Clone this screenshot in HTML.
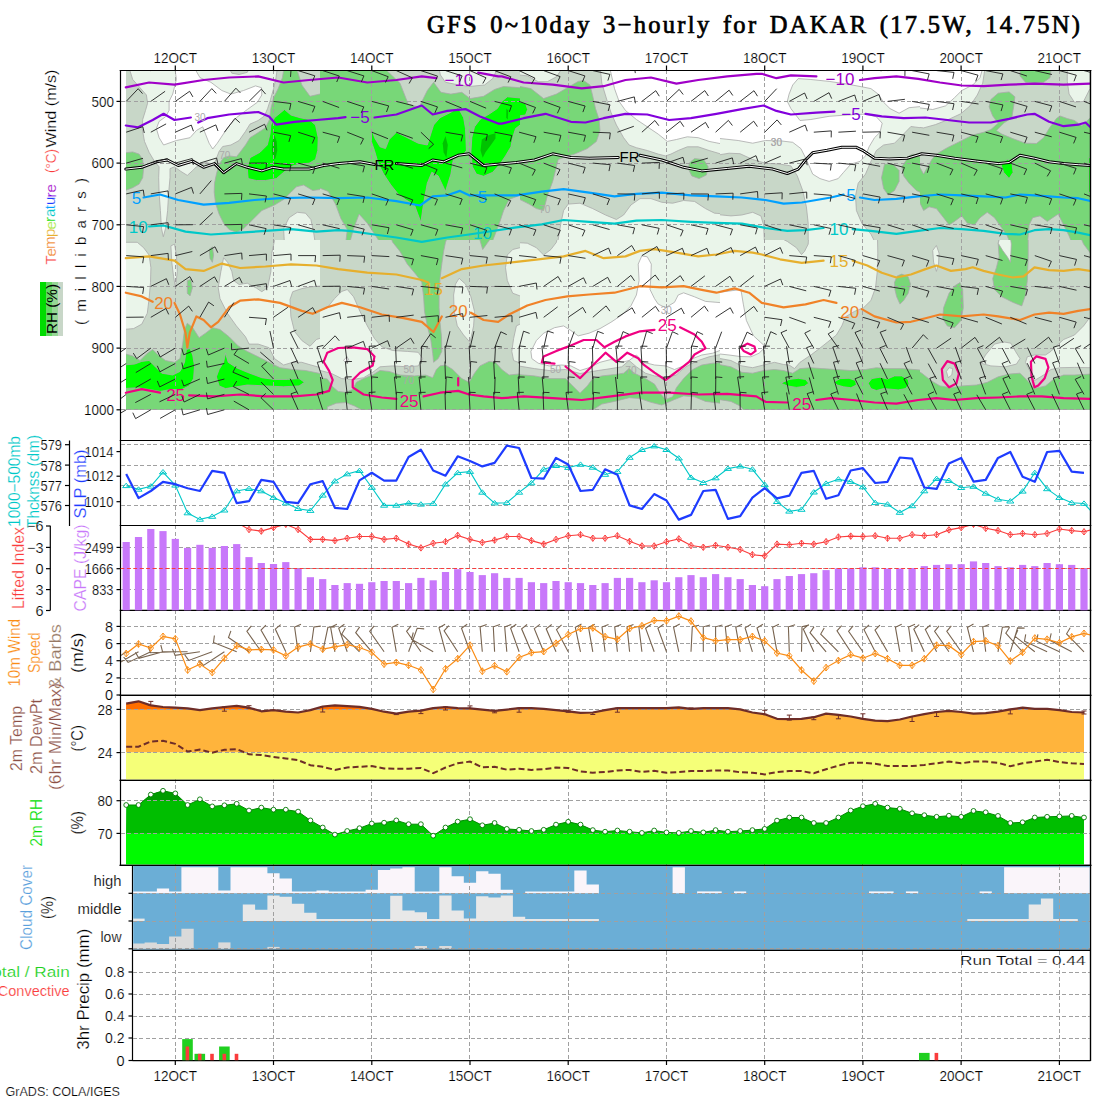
<!DOCTYPE html><html><head><meta charset="utf-8"><style>html,body{margin:0;padding:0;background:#fff}svg{display:block}</style></head><body><svg width="1100" height="1100" viewBox="0 0 1100 1100" font-family="Liberation Sans, sans-serif" shape-rendering="auto"><rect width="1100" height="1100" fill="#fff"/><text x="427" y="33.2" font-size="24.5" fill="#000" text-anchor="start" font-family="Liberation Serif, serif" textLength="653" lengthAdjust="spacing" stroke="#000" stroke-width="0.7" word-spacing="3">GFS 0~10day 3−hourly for DAKAR (17.5W, 14.75N)</text><g stroke="#aaaaaa" stroke-width="0.8" stroke-linejoin="round"><clipPath id="c0"><rect x="126" y="70" width="194" height="170"/></clipPath><g clip-path="url(#c0)"><rect x="125" y="69" width="196" height="172" fill="#c8d7c8" stroke="none"/><polygon points="128.2,65 277.8,65 276,77.7 273.6,88.6 270.5,99.5 267.6,108.6 264.5,115.9 258.2,120.5 250,124.1 245.5,131.4 239.1,140.5 230.9,145 222.7,146.5 219.1,151.4 216,159.5 213.6,164.1 205.5,162.3 196.4,166.8 192.7,170.5 187.3,175.4 180.9,171.4 174.5,166.8 170,168.6 170,177.7 168.7,192.3 167.6,210.5 165.5,228.6 163.3,236.8 161.5,228.6 160.4,210.5 159.1,192.3 158.7,177.7 159.1,166.8 154.5,161.4 149.1,152.3 144.5,141.4 142.2,128.6 142.7,119.5 145.5,110.5 147.6,103.2 146.4,95 140,87.7 132.7,79.5" fill="#eaf5ea"/><polygon points="227.3,65 231.8,73.2 239.1,74.5 247.3,72.3 250.9,65" fill="#c8d7c8"/><polygon points="174.5,65 192.7,65 200,77.7 210.9,82.3 221.8,90.5 230.9,94.1 243.6,90.5 255.5,85.9 261.5,87.7 261.8,95 257.3,102.3 247.3,109.5 236.4,117.7 229.1,125.9 222.7,135 217.3,143.2 212.7,149 209.1,143.2 205.5,134.1 202.7,126.8 196.4,130.5 190,137.7 176.4,140.5 163.6,145 159.1,137.7 156.4,128.6 159.1,121.4 165.5,116.8 169.1,110.5 169.1,101.4 172.7,94.1 174.5,86.8 176.4,79.5" fill="#ffffff"/><polygon points="284.5,245 283.6,228.6 289.1,217.7 297.3,212.3 305.5,213.2 310.9,219.5 313.6,232.3 315.5,245" fill="#eaf5ea"/><polygon points="122.7,153.2 132.7,151.9 139.1,154.1 142.7,159.5 143.6,168.6 142.7,177.7 139.1,184.1 132.7,187.7 122.7,191.4" fill="#78d778"/><polygon points="284.5,65 282.4,77.7 278.2,88.6 273.6,97.7 270.9,108.6 269.5,119.5 265.5,127.7 258.2,132.6 250,137.7 245.5,145 240,152.3 236.4,156.8 229.1,155.9 223.6,157.7 219.1,164.1 216.4,174.1 214.5,183.2 214.2,192.3 215.5,203.2 219.1,214.1 223.6,223.2 229.1,229.5 236.4,232.3 243.6,228.6 250.9,221.4 261.8,210.5 274.5,205 283.6,199.5 290.9,192.3 296.4,186.8 303.6,185 312.7,190.5 327.3,188.6 327.3,65" fill="#78d778"/><polygon points="295.5,65 327.3,65 327.3,92.3 310,96.3 301.8,85" fill="#c8d7c8"/><polygon points="248.2,178.6 247.3,168.6 250,157.7 260,152.3 267.3,145 270,134.1 270.9,125 274.5,117.7 284.5,109.5 290.9,115 300,117.7 309.1,119.5 315.5,125 318.2,137.7 317.8,150.5 315.5,159.5 309.1,163.2 300,164.1 292.7,165.9 283.6,172.3 276.4,178.6 265.5,180.5 256.4,180.5" fill="#00ff00"/><polygon points="274.5,135 276.7,141.4 277.3,150.5 275.5,158.6 273.3,159.5 271.8,150.5 272.4,141.4" fill="#00c300" stroke="none"/></g><clipPath id="c1"><rect x="320" y="70" width="200" height="170"/></clipPath><g clip-path="url(#c1)"><rect x="319" y="69" width="202" height="172" fill="#78d778" stroke="none"/><polygon points="380.9,65 400,83.2 408.2,104.1 419.1,107.2 427.3,90.5 433.6,82.3 440.9,92.3 450.9,94.1 461.8,92.3 470,98.6 483.6,96.3 494.5,89.5 503.6,86.5 527.3,88.3 527.3,65" fill="#c8d7c8"/><polygon points="438.2,65 499.1,65 492.7,78.6 484.5,85 469.1,86.5 454.5,84.1 445.5,82.3 440.4,75" fill="#eaf5ea"/><polygon points="312.7,185.4 328.2,191.4 335.5,204.1 340.9,218.6 347.3,229.5 345.5,245 312.7,245" fill="#c8d7c8"/><polygon points="359.1,214.1 367.3,223.2 374.5,234.1 381.8,245 349.1,245 353.6,228.6" fill="#c8d7c8"/><polygon points="527.3,192.3 509.1,199.5 503.6,210.5 500,221.4 494.5,235.9 490.9,245 527.3,245" fill="#c8d7c8"/><polygon points="447.3,245 454.5,239.9 463.6,245" fill="#c8d7c8"/><polygon points="371.8,128.6 374.5,137.7 380,146.8 385.5,148.6 389.1,139.5 396.4,132.3 405.5,136.8 418.2,143.2 427.3,145 433.6,125 440,117.7 450.9,112.3 458.2,107.7 463.6,117.7 465.5,128.6 466.4,150.5 463.6,154.1 453.6,157.7 450.9,174.1 445.5,191.4 438.2,175.9 431.8,172.3 427.3,183.2 423.6,203.2 420.9,222.3 414.5,205 405.5,199.5 398.2,194.1 390.9,185 383.6,174.1 378.2,163.2 374.5,150.5 371.3,141.4" fill="#00ff00"/><polygon points="471.8,137.7 474.5,126.8 480,119.5 489.1,114.1 497.3,108.6 501.8,101.4 507.3,96.8 527.3,98.6 527.3,119.5 515.5,128.6 512.7,137.7 510.9,146.8 505.5,155.9 500,164.1 492.7,172.3 483.6,176.3 476.4,174.1 472.4,166.8 470.9,152.3" fill="#00ff00"/><polygon points="445.5,135.9 447.8,145 446.4,157.7 443.6,152.3 442.7,143.2" fill="#00c300" stroke="none"/><polygon points="481.8,139.5 489.1,135 495.5,133.2 495.5,138.6 490.9,145 485.5,152.3 482.7,157.7 480.5,150.5" fill="#00c300" stroke="none"/><polygon points="506.4,108.6 508.2,110.5 507.8,119.5 506.2,117.7" fill="#00c300" stroke="none"/></g><clipPath id="c2"><rect x="520" y="70" width="200" height="170"/></clipPath><g clip-path="url(#c2)"><rect x="519" y="69" width="202" height="172" fill="#c8d7c8" stroke="none"/><polygon points="512.7,65 564.5,65 556.4,76.8 547.3,81.7 538.2,81.7 527.3,75.9 512.7,74.1" fill="#eaf5ea"/><polygon points="600,65 601.8,83.2 607.3,101.4 610.9,112.3 616.4,125 623.6,137.7 629.1,145 636.4,147.7 647.3,150.5 658.2,154.1 665.5,155.9 670.9,154.1 678.2,150.5 687.3,146.8 698.2,146.8 709.1,150.5 727.3,155.9 727.3,65" fill="#eaf5ea"/><polygon points="609.1,65 614.5,88.6 619.1,101.4 625.5,110.5 636.4,119.5 647.3,126.8 658.2,134.1 667.3,141.4 676.4,139.5 687.3,136.8 698.2,137.7 709.1,141.4 727.3,145 727.3,65" fill="#ffffff"/><polygon points="557.3,245 559.1,234.1 560.9,223.2 563.6,210.5 568.2,204.1 580,203.2 592.7,208.6 605.5,215 616.4,219.5 623.6,215 630.9,205 640,198.6 650.9,198.6 661.8,202.3 672.7,203.2 683.6,200.5 694.5,201.4 705.5,208.6 714.5,213.2 727.3,214.1 727.3,245" fill="#eaf5ea"/><polygon points="512.7,85 530.9,88.6 543.6,98.6 556.4,94.1 569.1,86.8 578.2,81.4 583.6,80.5 590,85 592.7,95.9 595.5,108.6 599.1,119.5 600,130.5 596.4,141.4 587.3,148.6 574.5,154.1 565.5,156.8 558.2,159.5 555.5,170.5 552.7,181.4 547.3,195.9 543.6,210.5 536.4,208.6 529.1,204.1 512.7,195.9" fill="#78d778"/><polygon points="689.1,163.2 694.5,158.6 703.6,159.5 708.2,166.8 706.4,175 699.1,178.6 691.8,175.9 688.7,169.5" fill="#78d778"/><polygon points="512.7,100.5 525.5,103.2 527.6,109.5 525.5,115 512.7,116.8" fill="#00ff00"/></g><clipPath id="c3"><rect x="720" y="70" width="200" height="170"/></clipPath><g clip-path="url(#c3)"><rect x="719" y="69" width="202" height="172" fill="#eaf5ea" stroke="none"/><polygon points="712.7,65 927.3,65 927.3,105.9 909.1,107.7 899.1,113.2 890,108.6 883.6,102.3 878.2,94.1 870.9,88.6 861.8,86.8 847.3,84.1 829.1,81.4 810.9,79.5 798.2,78.6 792.7,85 789.1,94.1 787.3,101.4 790.9,108.6 800,120.5 810.9,119.5 829.1,116.3 847.3,115 865.5,114.1 876.4,116.8 882.2,123.2 880,132.3 874.5,137.7 869.1,146.8 865.5,155.9 860,161.4 850.9,164.1 843.6,172.3 838.2,178.6 829.1,181.4 820,178.6 812.7,174.1 809.1,165.9 805.5,157.7 800.9,148.6 792.7,142.3 781.8,141 765.5,140.5 752.7,143.2 738.2,140.5 712.7,137.7" fill="#ffffff"/><polygon points="712.7,155.9 729.1,153.2 740,153.7 752.7,159.5 765.5,163.2 780,164.1 790.9,165.9 797.3,175.9 802.7,190.5 806.4,206.8 808.2,223.2 808.2,245 764.5,245 763.6,225 760.9,215.9 752.7,212.3 741.8,215 730.9,215.9 712.7,214.1" fill="#c8d7c8"/><polygon points="927.3,128.6 910.9,126.5 901.8,135.9 894.5,143.2 883.6,145 876.4,150.5 870.9,161.4 865.5,174.1 858.2,183.2 855.5,195.9 856.4,210.5 861.8,223.2 870.9,234.1 876.4,245 927.3,245" fill="#c8d7c8"/><polygon points="884.5,164.1 892.7,164.1 899.1,170.5 899.1,181.4 894.5,190.5 888.2,195 883.6,188.6 881.5,177.7" fill="#78d778"/><polygon points="901.8,166.8 909.1,155.9 912.7,154.1 927.3,159.5 927.3,195.9 916.4,190.5 909.1,183.2 903.6,175.9" fill="#78d778"/></g><clipPath id="c4"><rect x="920" y="70" width="170" height="170"/></clipPath><g clip-path="url(#c4)"><rect x="919" y="69" width="172" height="172" fill="#c8d7c8" stroke="none"/><polygon points="892.7,65 985.5,65 982.7,83.2 977.3,95 970,105.9 960.9,113.7 949.1,119.2 935.5,124.6 923.6,127.9 912.7,126.5 906.4,133.2 892.7,139.5" fill="#eaf5ea"/><polygon points="892.7,65 983.6,65 980,77.7 972.7,85 961.8,90.5 954.5,97.7 945.5,105.9 932.7,109.5 918.2,107.7 907.3,108.6 892.7,106.8" fill="#ffffff"/><polygon points="1067.3,65 1090,65 1090,88.6 1083.6,101.4 1074.5,102.3 1069.1,94.1 1067.3,81.4" fill="#eaf5ea"/><polygon points="1020,65 1051.8,65 1050,77.7 1043.6,82.3 1034.5,83.2 1025.5,82.3 1020,75.9" fill="#78d778"/><polygon points="892.7,166.8 905.5,163.2 910.9,155.9 913.6,154.1 914.5,157.7 923.6,174.1 931.8,159.5 936.4,154.1 947.3,147.7 960,141.4 972.7,135 983.6,132.3 990.9,129.5 998.2,123.2 992.7,115.9 989.1,106.8 990.9,99.5 998.2,93.2 1009.1,91.9 1014.9,96.8 1013.6,106.8 1011.8,117.7 1003.6,123.2 996.4,130.5 1001.8,134.1 1012.7,138.6 1025.5,143.2 1036.4,143.5 1043.6,137.7 1049.1,128.6 1056.4,118.6 1060,115.9 1067.3,118.6 1074.5,120.5 1081.8,125.9 1090.4,117.7 1090.4,245 1072.7,245 1069.1,235.9 1063.6,225 1058.2,214.1 1052.7,217.7 1047.3,221.4 1040,215.9 1032.7,217.7 1029.1,225 1028.2,235.9 1027.3,245 1010.9,245 1007.3,235.9 1000.9,226.8 994.5,217.7 987.3,212.3 980,217.7 974.5,225 967.3,223.2 961.8,215.9 954.5,221.4 949.1,225 943.6,217.7 936.4,208.6 929.1,206.8 923.6,210.5 920,203.2 917.3,192.3 912.7,183.2 905.5,175.9 892.7,172.3" fill="#78d778"/><polygon points="1000.9,164.1 1007.3,159.5 1011.8,161.4 1013.1,172.3 1009.1,178.6 1003.6,172.3" fill="#00ff00"/><polygon points="1088.7,157.7 1090.4,157.7 1090.4,192.3 1088.7,192.3" fill="#00ff00"/></g><clipPath id="c5"><rect x="126" y="240" width="194" height="170"/></clipPath><g clip-path="url(#c5)"><rect x="125" y="239" width="196" height="172" fill="#c8d7c8" stroke="none"/><polygon points="122.7,242.3 137.3,242.3 143.6,247.7 149.1,255 150.9,267.7 150.5,282.3 149.1,298.6 147.3,313.2 141.8,324.1 133.6,328.6 122.7,329.5" fill="#eaf5ea"/><polygon points="170.9,245.9 174.5,244.1 176.4,255 177.3,271.4 175.5,287.7 173.6,276.8 171.8,262.3" fill="#eaf5ea"/><polygon points="223.6,257.7 227.6,262.3 231.8,271.4 233.6,280.5 239.1,284.5 247.3,283.2 256.4,288.1 261.8,291.7 267.6,287.7 270.9,271.4 271.8,253.2 274.5,240.5 278.2,227.7 327.3,227.7 327.3,369.5 310.9,365 301.8,362.3 292.7,362.3 283.6,365 274.5,358.6 269.1,347.7 258.2,344.1 249.1,344.1 245.5,336.8 236.4,325.9 227.3,313.2 220,298.6 218.2,287.7 220.9,271.4" fill="#eaf5ea"/><polygon points="327.3,285.5 310.9,286.8 301.8,288.6 292.7,291.7 290,299.5 290.9,316.8 294.5,331.4 301.8,340.5 310,346.3 316.4,339.5 327.3,335.9" fill="#c8d7c8"/><polygon points="209.1,249.5 212.4,246.8 213.6,255 212.4,262.3 210,258.6" fill="#78d778"/><polygon points="187.3,280.5 190.9,279.5 192.4,287.7 190,295.9 187.3,293.2" fill="#78d778"/><polygon points="122.7,353.2 132.7,355.9 140,360.5 147.3,353.2 152.7,349.5 158.2,355 165.5,360.5 174.5,362.3 180,358.6 182.7,344.1 184.5,329.5 187.3,323.2 192.7,327.7 199.1,337.7 205.5,333.2 212.7,327.7 220,329.5 229.1,336.8 238.2,345.9 247.3,351.4 258.2,356.8 269.1,362.3 280,367.7 292.7,369.5 305.5,370.5 327.3,375 327.3,409.9 122.7,409.9" fill="#78d778"/><polygon points="122.7,365 134.5,364.1 141.8,361.4 149.1,360.5 154.5,365.9 161.8,373.2 172.7,375 180,371.4 184.5,362.3 186.4,349.5 190,348.6 192.7,355 194.5,365.9 193.6,378.6 189.1,385.9 181.8,389.5 170.9,389.5 160,391.4 149.1,389.5 138.2,387.7 122.7,388.6" fill="#00ff00"/><polygon points="216.4,376.8 219.1,369.5 223.6,362.3 225.5,353.2 228.2,362.3 236.4,367.7 247.3,372.3 261.8,377.7 274.5,379.5 287.3,379.5 299.1,378.6 304.5,382.3 299.1,385.9 283.6,386.8 265.5,385.9 247.3,385 236.4,386.8 225.5,388.6 219.1,385.9" fill="#00ff00"/></g><clipPath id="c6"><rect x="320" y="240" width="200" height="170"/></clipPath><g clip-path="url(#c6)"><rect x="319" y="239" width="202" height="172" fill="#c8d7c8" stroke="none"/><polygon points="312.7,313.2 327.3,307.7 334.5,298.6 341.8,291.4 347.3,289.5 353.6,296.8 360,311.4 367.3,325.9 374.5,338.6 381.8,346.8 392.7,350.5 407.3,351.4 418.2,352.3 422.7,358.6 418.2,365.9 407.3,366.8 392.7,365.9 380,366.8 372.7,372.3 363.6,377.7 352.7,379.5 341.8,378.6 330.9,373.2 312.7,368.6" fill="#eaf5ea"/><polygon points="343.6,360.5 346.9,356.5 349.1,360.5 346.4,363.2" fill="#ffffff"/><polygon points="453.6,295 455.5,284.1 459.1,278.3 465.5,284.1 470.9,296.8 474.5,311.4 473.6,325.9 470,342.3 463.6,335 457.3,325.9 454.2,311.4" fill="#eaf5ea"/><polygon points="527.3,245.9 512.7,249.5 507.3,255 505.5,267.7 507.3,280.5 512.7,293.2 527.3,298.6" fill="#eaf5ea"/><polygon points="527.3,320.5 516.4,325.9 513.6,338.6 511.8,351.4 513.6,360.5 527.3,365.9" fill="#eaf5ea"/><polygon points="387.3,227.7 392.7,242.3 400,251.4 407.3,264.1 416.4,275 421.8,282.3 423.6,296.8 424.5,311.4 427.3,325.9 430.9,340.5 432.7,353.2 433.6,362.3 438.2,358.6 441.8,351.4 441.5,336.8 440,322.3 439.1,307.7 439.1,293.2 440,278.6 441.8,264.1 443.6,251.4 445.5,242.3 450.9,227.7" fill="#78d778"/><polygon points="476.4,227.7 482.7,249.5 489.1,240.5 492.7,227.7" fill="#78d778"/><polygon points="312.7,376.5 327.3,379 332.7,386.8 338.2,391.4 345.5,392.3 352.7,389.5 356.4,382.3 363.6,378.6 372.7,375 380,370.5 389.1,371.4 400,375 414.5,375.9 425.5,375 432.7,377.7 436.4,369.5 440,365.9 445.5,365 452.7,369.5 461.8,378.6 469.1,382.3 474.5,373.2 480,365.9 489.1,361.4 495.5,362.3 501.8,369.5 509.1,375 527.3,373.2 527.3,409.9 312.7,409.9" fill="#78d778"/><polygon points="327.3,406.8 336.4,403.2 345.5,402.6 354.5,405.9 361.8,409.9 327.3,409.9" fill="#c8d7c8"/></g><clipPath id="c7"><rect x="520" y="240" width="200" height="170"/></clipPath><g clip-path="url(#c7)"><rect x="519" y="239" width="202" height="172" fill="#eaf5ea" stroke="none"/><polygon points="512.7,227.7 559.1,227.7 556.4,242.3 550.9,249.5 543.6,255 536.4,247.7 527.3,243.2 512.7,242.3" fill="#c8d7c8"/><polygon points="512.7,365 534.5,368.6 549.1,370.5 565.5,369.5 580,373.5 598.2,370.5 610.9,368.6 621.8,366.8 629.1,360.5 636.4,366.8 645.5,373.2 654.5,375.9 665.5,377.2 676.4,375 680,371.4 687.3,365.9 698.2,360.5 709.1,356.8 727.3,353.2 727.3,415 512.7,415" fill="#c8d7c8"/><polygon points="512.7,374.1 534.5,375.9 549.1,378.6 565.5,378.6 572.7,385.9 580,393.2 587.3,385.9 592.7,378.6 601.8,375.9 614.5,374.6 623.6,373.2 629.1,368.6 634.5,373.2 645.5,378.6 654.5,384.1 660,393.2 665.5,399.5 672.7,396.8 676.4,387.7 683.6,378.6 692.7,369.5 701.8,365 712.7,363.2 727.3,362.3 727.3,409.9 512.7,409.9" fill="#78d778"/><polygon points="592.7,409.9 601.8,404.1 614.5,401.4 629.1,397.7 640,398.6 650.9,402.3 661.8,405 674.5,399.5 683.6,395.9 694.5,396.8 705.5,401.4 727.3,404.1 727.3,409.9" fill="#c8d7c8"/><polygon points="530.9,351.4 536.4,340.5 543.6,333.2 554.5,327.7 563.6,325.9 570.9,330.5 578.2,335.9 589.1,333.2 600,328.6 610.9,322.3 621.8,315 630.9,305.9 636.4,295 639.1,280.5 638.2,264.1 641.8,255.9 647.3,256.8 651.3,264.1 650.9,276.8 650,289.5 654.5,298.6 658.2,304.1 665.5,307.7 674.5,302.3 678.2,295 683.6,292.8 694.5,296.8 705.5,301.4 727.3,303.2 727.3,347.7 712.7,353.2 701.8,355 692.7,358.6 683.6,365.9 674.5,369.5 665.5,365.9 654.5,365 643.6,362.3 636.4,355 629.1,360.5 621.8,362.3 610.9,359.5 600,362.3 589.1,367.7 580,370.5 570.9,365.9 561.8,365 549.1,365.9 538.2,363.2 531.8,358.6" fill="#ffffff"/></g><clipPath id="c8"><rect x="720" y="240" width="200" height="170"/></clipPath><g clip-path="url(#c8)"><rect x="719" y="239" width="202" height="172" fill="#eaf5ea" stroke="none"/><polygon points="712.7,293.2 740.9,289.5 743.3,304.1 746.4,320.5 753.6,335.9 765.5,346.8 759.1,353.2 750.9,356.8 740,356.5 729.1,355 712.7,353.2" fill="#ffffff"/><polygon points="776.4,227.7 809.1,227.7 808.2,244.1 804.5,251.4 801.5,254.6 796.4,247.7 787.3,241.4 780,237.7" fill="#c8d7c8"/><polygon points="877.3,227.7 877.8,253.2 877.3,271.4 875.5,287.7 870.9,300.5 863.6,307.7 854.5,311.4 845.5,316.8 841.8,325.9 836.4,335 827.3,342.3 818.2,349.5 810.9,355 800,362.3 794.5,368.6 789.1,365 783.6,364.5 774.5,362.3 763.6,365 752.7,367.7 741.8,365.9 730.9,360.5 712.7,357.2 712.7,415 927.3,415 927.3,227.7" fill="#c8d7c8"/><polygon points="712.7,363.2 730.9,366.8 741.8,372.3 752.7,373.2 763.6,370.5 774.5,369.5 783.6,370.5 792.7,373.2 800,368.6 810.9,367.7 821.8,368.6 836.4,369.5 850.9,370.5 865.5,369.5 876.4,367.7 887.3,368.6 901.8,368.6 927.3,370.5 927.3,409.9 743.6,409.9 740,405.9 730.9,401.4 712.7,398.6" fill="#78d778"/><polygon points="894.5,282.3 897.3,275.9 901.8,274.1 908.2,276.8 910.5,284.1 908.2,293.2 903.6,300.5 900,304.1 896.7,296.8 894.9,289.5" fill="#78d778"/><polygon points="780.9,383.2 789.1,379.5 798.2,378.3 805.5,379.5 808.7,383.2 804.5,386.3 796.4,387.4 787.3,385.9" fill="#00ff00"/><polygon points="833.6,382.3 840,378.6 849.1,378.3 855.5,380.5 856.4,385 850.9,387.7 843.6,386.8 837.3,385" fill="#00ff00"/><polygon points="868.2,383.2 871.8,378.6 880,377.2 887.3,379 894.5,375.9 901.8,375.9 908.2,379.5 909.1,384.1 905.5,388.6 898.2,389.9 890.9,389.2 883.6,388.6 876.4,390.5 870.9,388.6" fill="#00ff00"/></g><clipPath id="c9"><rect x="920" y="240" width="170" height="170"/></clipPath><g clip-path="url(#c9)"><rect x="919" y="239" width="172" height="172" fill="#c8d7c8" stroke="none"/><polygon points="932.7,250.5 936.4,245.5 939.1,253.2 938.5,264.1 936.4,271.4 933.6,262.3" fill="#eaf5ea"/><polygon points="980.9,363.2 985.5,355 994.5,344.1 1003.6,341.9 1010.9,343.2 1015.5,351.4 1020,358.6 1016.4,364.1 1005.5,366.8 990.9,365.9" fill="#eaf5ea"/><polygon points="1090.4,316.8 1083.6,325.9 1074.5,335 1063.6,339.5 1056.4,345.9 1050.9,351.4 1045.5,355 1034.5,355 1027.3,356.8 1025.5,362.3 1030.9,373.2 1034.5,380.5 1043.6,375 1050.9,369.5 1060,367.7 1074.5,367.4 1090.4,367.7" fill="#eaf5ea"/><polygon points="946.4,371.4 949.1,367.7 952.7,368.6 951.8,375 948.2,377.7" fill="#eaf5ea"/><polygon points="892.7,278.6 906.4,279.5 910,285 908.2,295 903.6,301.4 892.7,303.2" fill="#78d778"/><polygon points="960,282.6 962.7,289.5 963.3,307.7 960.9,320.5 954.5,327.7 947.3,325.9 942.7,318.6 943.6,307.7 949.1,293.2 954.5,285.9" fill="#78d778"/><polygon points="998.2,243.2 1002.7,227.7 1028.2,227.7 1028.2,256.8 1027.3,280.5 1025.5,295 1021.8,305.9 1012.7,302.3 1001.8,296.8 994.5,289.5 992.7,278.6 996.4,267.7 999.1,256.8" fill="#78d778"/><polygon points="998.2,243.2 1002.7,227.7 1009.1,227.7 1011.3,244.1 1010.5,262.3 1007.3,256.8 1002.7,250.5" fill="#eaf5ea"/><polygon points="1076.4,227.7 1090.4,227.7 1090.4,253.2 1083.6,244.1" fill="#78d778"/><polygon points="892.7,365 910.9,367.7 921.8,373.2 930.9,380.5 940,385.9 950.9,387.7 961.8,385.9 976.4,385 987.3,382.3 998.2,376.8 1009.1,374.1 1020,373.2 1027.3,380.5 1034.5,388.6 1045.5,385.9 1054.5,378.6 1063.6,375 1074.5,375 1090.4,374.1 1090.4,409.9 892.7,409.9" fill="#78d778"/><polygon points="892.7,375.9 905.5,377.7 909.1,382.3 905.5,387.7 892.7,389.5" fill="#00ff00"/></g></g><line x1="120.5" y1="101.5" x2="1090.5" y2="101.5" stroke="#a0a0a0" stroke-width="1" stroke-dasharray="4 2.5" shape-rendering="crispEdges"/><line x1="120.5" y1="163.5" x2="1090.5" y2="163.5" stroke="#a0a0a0" stroke-width="1" stroke-dasharray="4 2.5" shape-rendering="crispEdges"/><line x1="120.5" y1="224.5" x2="1090.5" y2="224.5" stroke="#a0a0a0" stroke-width="1" stroke-dasharray="4 2.5" shape-rendering="crispEdges"/><line x1="120.5" y1="286.5" x2="1090.5" y2="286.5" stroke="#a0a0a0" stroke-width="1" stroke-dasharray="4 2.5" shape-rendering="crispEdges"/><line x1="120.5" y1="348.5" x2="1090.5" y2="348.5" stroke="#a0a0a0" stroke-width="1" stroke-dasharray="4 2.5" shape-rendering="crispEdges"/><line x1="120.5" y1="409.5" x2="1090.5" y2="409.5" stroke="#a0a0a0" stroke-width="1" stroke-dasharray="4 2.5" shape-rendering="crispEdges"/><line x1="175.5" y1="70" x2="175.5" y2="866" stroke="#a0a0a0" stroke-width="1" stroke-dasharray="4 2.5" shape-rendering="crispEdges"/><line x1="273.5" y1="70" x2="273.5" y2="866" stroke="#a0a0a0" stroke-width="1" stroke-dasharray="4 2.5" shape-rendering="crispEdges"/><line x1="371.5" y1="70" x2="371.5" y2="866" stroke="#a0a0a0" stroke-width="1" stroke-dasharray="4 2.5" shape-rendering="crispEdges"/><line x1="469.5" y1="70" x2="469.5" y2="866" stroke="#a0a0a0" stroke-width="1" stroke-dasharray="4 2.5" shape-rendering="crispEdges"/><line x1="568.5" y1="70" x2="568.5" y2="866" stroke="#a0a0a0" stroke-width="1" stroke-dasharray="4 2.5" shape-rendering="crispEdges"/><line x1="666.5" y1="70" x2="666.5" y2="866" stroke="#a0a0a0" stroke-width="1" stroke-dasharray="4 2.5" shape-rendering="crispEdges"/><line x1="764.5" y1="70" x2="764.5" y2="866" stroke="#a0a0a0" stroke-width="1" stroke-dasharray="4 2.5" shape-rendering="crispEdges"/><line x1="862.5" y1="70" x2="862.5" y2="866" stroke="#a0a0a0" stroke-width="1" stroke-dasharray="4 2.5" shape-rendering="crispEdges"/><line x1="961.5" y1="70" x2="961.5" y2="866" stroke="#a0a0a0" stroke-width="1" stroke-dasharray="4 2.5" shape-rendering="crispEdges"/><line x1="1059.5" y1="70" x2="1059.5" y2="866" stroke="#a0a0a0" stroke-width="1" stroke-dasharray="4 2.5" shape-rendering="crispEdges"/><clipPath id="ctop"><rect x="121" y="71" width="969" height="340"/></clipPath><g clip-path="url(#ctop)" stroke-linejoin="round" stroke-linecap="round"><polyline points="125.8,87.3 149.1,82.5 174.5,84.7 203.6,80 229.1,77.5 258.2,76.4 283.6,82.5 309.1,80 338.2,77.5 367.3,82.5 396.4,80 421.8,76.4 436.4,78.2" fill="none" stroke="#a000c8" stroke-width="2.2"/><polyline points="478.2,72.7 498.2,76.4 501.8,76.4 523.6,82.5 552.7,84.7 581.8,88.4 603.6,86.2 625.5,80 650.9,77.5 676.4,83.6 698.2,80 727.3,76.4 756.4,73.8 761.8,73.8 776.4,78.2 790.9,75.3 816.4,76.4" fill="none" stroke="#a000c8" stroke-width="2.2"/><polyline points="860,80 874.5,78.2 896.4,76.4 918.2,78.9 940,82.5 961.8,85.5 983.6,86.2 1009.1,84.7 1034.5,83.6 1063.6,84.7 1090.5,83.6" fill="none" stroke="#a000c8" stroke-width="2.2"/><polyline points="125.8,125.5 138.2,127.3 152.7,120 163.6,113.8 174.5,120 190.9,117.5" fill="none" stroke="#8200dc" stroke-width="2.2"/><polyline points="198.2,122.5 207.3,118.2 229.1,114.5 258.2,112 269.1,116.4 276.4,124.7 294.5,121.8 316.4,120 338.2,118.2 345.5,117.1" fill="none" stroke="#8200dc" stroke-width="2.2"/><polyline points="374.5,117.5 396.4,114.5 421.8,105.5 432.7,114.5 447.3,110.9 465.5,109.1 480,116.4 498.2,123.6 501.8,123.6 523.6,118.2 545.5,113.8 570.9,121.8 585.5,122.5 603.6,118.2 625.5,113.8 647.3,114.5 669.1,120 690.9,118.2 716.4,113.8 741.8,109.1 763.6,105.5 776.4,110.9 790.9,114.5 816.4,112.7 834.5,111.6" fill="none" stroke="#8200dc" stroke-width="2.2"/><polyline points="865.5,113.8 881.8,116.4 903.6,118.2 925.5,117.5 947.3,120 969.1,122.5 990.9,122.5 1009.1,118.9 1027.3,114.5 1034.5,113.8 1049.1,121.8 1063.6,126.2 1078.2,124.7 1085.5,122.5 1090.5,127.3" fill="none" stroke="#8200dc" stroke-width="2.2"/><polyline points="125.8,169.1 141.8,167.3 156.4,161.8 167.3,160 178.2,165.5 192.7,161.1 203.6,167.3 214.5,163.6 223.6,172.7 236.4,163.6 247.3,167.3 261.8,170.9 272.7,167.3 283.6,169.1 309.1,169.1 323.6,165.5 338.2,163.6 360,161.8 374.5,164.4" fill="none" stroke="#000" stroke-width="3"/><polyline points="125.8,169.1 141.8,167.3 156.4,161.8 167.3,160 178.2,165.5 192.7,161.1 203.6,167.3 214.5,163.6 223.6,172.7 236.4,163.6 247.3,167.3 261.8,170.9 272.7,167.3 283.6,169.1 309.1,169.1 323.6,165.5 338.2,163.6 360,161.8 374.5,164.4" fill="none" stroke="#fff" stroke-width="1"/><polyline points="396.4,163.6 421.8,165.5 432.7,160 443.6,161.8 458.2,155.3 469.1,153.8 483.6,165.5 516.4,162.5 534.5,160 552.7,153.8 570.9,157.5 589.1,158.2 618.2,157.5" fill="none" stroke="#000" stroke-width="3"/><polyline points="396.4,163.6 421.8,165.5 432.7,160 443.6,161.8 458.2,155.3 469.1,153.8 483.6,165.5 516.4,162.5 534.5,160 552.7,153.8 570.9,157.5 589.1,158.2 618.2,157.5" fill="none" stroke="#fff" stroke-width="1"/><polyline points="640,155.3 661.8,160 683.6,167.3 701.8,170.9 727.3,168.4 749.1,166.2 772.7,169.1 787.3,173.5 798.2,169.1 805.5,160 812.7,152.7 827.3,150.2 841.8,147.3 856.4,147.3 863.6,150.9 874.5,158.2 889.1,158.9 907.3,158.2 921.8,153.8 936.4,155.3 954.5,158.2 976.4,161.1 998.2,163.6 1009.1,162.5 1020,155.3 1034.5,158.2 1049.1,161.8 1063.6,163.6 1078.2,164.7 1090.5,165.5" fill="none" stroke="#000" stroke-width="3"/><polyline points="640,155.3 661.8,160 683.6,167.3 701.8,170.9 727.3,168.4 749.1,166.2 772.7,169.1 787.3,173.5 798.2,169.1 805.5,160 812.7,152.7 827.3,150.2 841.8,147.3 856.4,147.3 863.6,150.9 874.5,158.2 889.1,158.9 907.3,158.2 921.8,153.8 936.4,155.3 954.5,158.2 976.4,161.1 998.2,163.6 1009.1,162.5 1020,155.3 1034.5,158.2 1049.1,161.8 1063.6,163.6 1078.2,164.7 1090.5,165.5" fill="none" stroke="#fff" stroke-width="1"/><polyline points="143.6,197.5 160,194.5 178.2,200 203.6,204.7 229.1,202.9 254.5,200 280,198.2 309.1,197.5 338.2,198.2 367.3,197.5 396.4,201.1 420,205.5 432.7,196.4 447.3,195.3 460,190.9 469.1,195.3 516.4,195.3 541.8,191.6 563.6,189.1 589.1,192.7 614.5,196.4 636.4,193.8 661.8,192.7 690.9,195.3 716.4,196.4 741.8,197.5 765.5,200 783.6,203.6 801.8,202.5 816.4,200 830.9,197.5 843.6,194.5" fill="none" stroke="#00a0ff" stroke-width="2.2"/><polyline points="860,197.5 874.5,200 896.4,198.9 918.2,196.4 940,194.5 961.8,195.3 983.6,196.4 1005.5,197.5 1020,194.5 1034.5,195.3 1049.1,196.4 1063.6,197.5 1078.2,198.2 1090.5,201.1" fill="none" stroke="#00a0ff" stroke-width="2.2"/><polyline points="149.1,226.5 163.6,225.5 185.5,231.6 210.9,234.5 240,232.7 265.5,230.9 290.9,229.1 316.4,231.6 338.2,230.2 349.1,230.9 374.5,234.5 396.4,237.5 421.8,241.8 447.3,237.5 469.1,234.5 516.4,227.3 541.8,224.4 563.6,220 589.1,221.8 614.5,223.6 636.4,220.7 661.8,220 690.9,221.8 716.4,222.9 741.8,223.6 765.5,228 787.3,230.9 805.5,230.2 823.6,228" fill="none" stroke="#00c8c8" stroke-width="2.2"/><polyline points="852.7,229.1 870.9,230.9 896.4,233.8 918.2,230.9 940,228 961.8,229.1 983.6,230.9 1005.5,233.8 1020,234.5 1034.5,230.2 1049.1,229.1 1063.6,230.2 1078.2,232.7 1090.5,235.3" fill="none" stroke="#00c8c8" stroke-width="2.2"/><polyline points="125.8,258.2 149.1,256.4 174.5,260.7 185.5,269.1 203.6,270.9 221.8,263.6 240,268 265.5,266.5 290.9,264.4 316.4,265.5 338.2,269.1 367.3,272.7 396.4,274.5 421.8,280 428.4,282.5" fill="none" stroke="#e6af2d" stroke-width="2.2"/><polyline points="441.8,278.2 461.8,269.1 483.6,265.5 516.4,261.8 538.2,259.3 563.6,256.4 585.5,250.9 603.6,258.2 625.5,256.4 640,250.9 654.5,249.1 676.4,252.7 698.2,256.4 716.4,254.5 734.5,250.9 752.7,252.7 761.8,254.5 780,259.3 801.8,262.9 823.6,260.7" fill="none" stroke="#e6af2d" stroke-width="2.2"/><polyline points="852.7,260.7 867.3,265.5 881.8,272.7 896.4,277.5 910.9,274.5 925.5,269.1 936.4,265.5 950.9,270.9 965.5,269.1 972.7,267.3 983.6,270.9 998.2,274.5 1012.7,277.5 1023.6,276.4 1034.5,267.3 1049.1,270.2 1063.6,270.9 1078.2,269.1 1090.5,270.9" fill="none" stroke="#e6af2d" stroke-width="2.2"/><polyline points="125.8,292.7 141.8,296.4 152.7,301.8" fill="none" stroke="#f08228" stroke-width="2.2"/><polyline points="174.5,302.9 180,314.5 185.5,332.7 187.3,347.3 189.8,332.7 196.4,316.4 203.6,320 210.9,327.3 218.2,321.8 229.1,307.3 240,300.7 258.2,299.3 280,302.9 301.8,310.9 312.7,313.8 327.3,307.3 341.8,302.9 360,307.3 381.8,314.5 403.6,318.2 421.8,321.8 433.5,332 441.8,316.4" fill="none" stroke="#f08228" stroke-width="2.2"/><polyline points="470.9,312.7 483.6,320 498.2,321.8 509.1,314.5 527.3,305.5 545.5,300 567.3,296.4 589.1,294.5 614.5,292.7 640,286.2 661.8,287.3 683.6,286.2 701.8,289.8 716.4,292.7 734.5,288.4 749.1,292.7 761.8,302.9 783.6,307.3 805.5,304.4 823.6,300 836.4,302.9" fill="none" stroke="#f08228" stroke-width="2.2"/><polyline points="861.8,309.1 874.5,316.4 896.4,322.5 910.9,321.8 925.5,318.2 940,314.5 961.8,316.4 983.6,314.5 998.2,316.4 1020,320 1034.5,314.5 1049.1,312.7 1063.6,313.8 1078.2,310.9 1090.5,309.1" fill="none" stroke="#f08228" stroke-width="2.2"/><polyline points="125.8,392.7 141.8,389.1 160,392.7" fill="none" stroke="#f00082" stroke-width="2.2"/><polyline points="189.1,395.3 214.5,396.4 240,394.5 265.5,396.4 294.5,396.4 316.4,394.5 329.1,390.9 332.7,380 329.1,370.9 323.6,361.8 327.3,352.7 338.2,348 352.7,347.3 367.3,349.1 374.5,356.4 372.7,365.5 360,372.7 352.7,380 352.7,387.3 363.6,394.5 381.8,397.5 396.4,398.9" fill="none" stroke="#f00082" stroke-width="2.2"/><polyline points="423.6,396.4 440,392.7 458.2,390.9 469.1,394.5 483.6,396.4 501.8,398.2 523.6,396.4 552.7,398.2 581.8,400 610.9,396.4 640,392.7 669.1,392.7 698.2,394.5 727.3,393.8 756.4,396.4 765.5,401.8 787.3,402.5" fill="none" stroke="#f00082" stroke-width="2.2"/><polyline points="816.4,400 830.9,398.2 852.7,400 874.5,402.5 896.4,403.6 918.2,400 936.4,398.2 954.5,400 976.4,398.2 998.2,397.5 1020,396.4 1041.8,396.4 1063.6,398.2 1090.5,398.9" fill="none" stroke="#f00082" stroke-width="2.2"/><polyline points="458.2,378.2 458.2,385.5" fill="none" stroke="#f00082" stroke-width="2.2"/><polyline points="654.5,329.8 640,331.3 625.5,336.4 614.5,341.8 604.4,347.3 596.4,340 583.6,340 570.9,345.5 556.4,350.9 543.6,356.4 541.8,362.5 554.5,363.6" fill="none" stroke="#f00082" stroke-width="2.2"/><polyline points="565.5,366.5 580,378.2 596.4,361.8 605.5,352.7 616.4,361.8 627.3,352.7 638.2,358.2 643.6,364.7 654.5,372.7 665.5,380 680,369.1 689.1,361.8 694.5,354.5 705.5,348.4 701.8,341.8 694.5,334.5 680,327.3" fill="none" stroke="#f00082" stroke-width="2.2"/><polyline points="741.1,347.3 747.3,343.6 754.5,346.5 755.6,350.9 750.9,354.5 743.6,350.9 741.1,347.3" fill="none" stroke="#f00082" stroke-width="2.2"/><polyline points="941.8,369.1 947.3,361.1 954.5,363.6 958.9,373.5 956.4,383.6 949.1,387.3 942.9,380 941.8,369.1" fill="none" stroke="#f00082" stroke-width="2.2"/><polyline points="1030.9,361.8 1036.4,356.4 1045.5,358.9 1048.4,367.3 1044.7,378.2 1038.2,385.5 1034.5,387.3 1031.6,376.4 1030.9,361.8" fill="none" stroke="#f00082" stroke-width="2.2"/></g><text x="458.9" y="86.1" font-size="17" fill="#a000c8" text-anchor="middle">−10</text><text x="840" y="85" font-size="17" fill="#a000c8" text-anchor="middle">−10</text><text x="360" y="123.2" font-size="17" fill="#8200dc" text-anchor="middle">−5</text><text x="850.9" y="119.9" font-size="17" fill="#8200dc" text-anchor="middle">−5</text><text x="384.4" y="169.8" font-size="15" fill="#000" text-anchor="middle">FR</text><text x="629.5" y="161.8" font-size="15" fill="#000" text-anchor="middle">FR</text><text x="136.4" y="204.3" font-size="17" fill="#00a0ff" text-anchor="middle">5</text><text x="482.5" y="202.5" font-size="17" fill="#00a0ff" text-anchor="middle">5</text><text x="850.9" y="201.4" font-size="17" fill="#00a0ff" text-anchor="middle">5</text><text x="138.2" y="233.4" font-size="17" fill="#00c8c8" text-anchor="middle">10</text><text x="482.5" y="238.8" font-size="17" fill="#00c8c8" text-anchor="middle">10</text><text x="838.9" y="235.2" font-size="17" fill="#00c8c8" text-anchor="middle">10</text><text x="433.5" y="294.5" font-size="17" fill="#e6af2d" text-anchor="middle">15</text><text x="838.9" y="266.8" font-size="17" fill="#e6af2d" text-anchor="middle">15</text><text x="163.6" y="309" font-size="17" fill="#f08228" text-anchor="middle">20</text><text x="458.2" y="317" font-size="17" fill="#f08228" text-anchor="middle">20</text><text x="849.8" y="317.8" font-size="17" fill="#f08228" text-anchor="middle">20</text><text x="175.6" y="400.7" font-size="17" fill="#f00082" text-anchor="middle">25</text><text x="409.1" y="407.2" font-size="17" fill="#f00082" text-anchor="middle">25</text><text x="667.3" y="330.8" font-size="17" fill="#f00082" text-anchor="middle">25</text><text x="801.8" y="409.8" font-size="17" fill="#f00082" text-anchor="middle">25</text><text x="200" y="120.6" font-size="10" fill="#aaaaaa" text-anchor="middle">30</text><text x="224.7" y="158.8" font-size="10" fill="#aaaaaa" text-anchor="middle">70</text><text x="409.1" y="372.6" font-size="10" fill="#aaaaaa" text-anchor="middle">50</text><text x="408.4" y="383.5" font-size="10" fill="#aaaaaa" text-anchor="middle">70</text><text x="776.4" y="146.4" font-size="10" fill="#aaaaaa" text-anchor="middle">30</text><text x="666.2" y="313.7" font-size="10" fill="#aaaaaa" text-anchor="middle">30</text><text x="555.6" y="373.3" font-size="10" fill="#aaaaaa" text-anchor="middle">50</text><text x="630.9" y="373.7" font-size="10" fill="#aaaaaa" text-anchor="middle">70</text><text x="544.7" y="213.3" font-size="10" fill="#aaaaaa" text-anchor="middle">70</text><text x="776.4" y="146.4" font-size="10" fill="#aaaaaa" text-anchor="middle">30</text><clipPath id="cb"><rect x="121" y="71" width="969" height="360"/></clipPath><g clip-path="url(#cb)" stroke="#1e1e1e" stroke-width="0.9" fill="none" stroke-linecap="butt"><path d="M126.2 70.6L137.9 57.5l4.4 4.7M126.2 101.4L138.2 88.7l4.3 4.9M126.2 132.2L142.8 126.7l1.5 6.3M126.2 163.1L143 158.3M126.2 193.9L143.3 190l0.9 6.4M126.2 224.8L143.6 226.6l-1.2 6.4M126.2 255.6L143.7 256.8l-1 6.4M126.2 286.4L143.7 287.5l-1 6.4M126.2 317.3L143.7 317.1M126.2 348.1L111.8 358.1l-3.2 -5.6M126.2 363.5L111.5 373.1l-3 -5.7M126.2 379L111.3 388.2l-2.9 -5.8M126.2 394.4L112.3 405l-3.5 -5.5M126.2 409.8L111.1 418.7l-2.8 -5.9M150.8 70.6L165.1 60.5M150.8 101.4L165.1 91.3M150.8 132.2L166.1 123.9M150.8 163.1L167.6 158.5M150.8 193.9L168 190.9l0.6 6.5M150.8 224.8L168.1 222.7l0.2 6.5M150.8 255.6L168.1 253.4l0.3 6.5M150.8 286.4L166.4 278.7l2.4 6.1M150.8 317.3L165.9 308.5l2.8 5.9M150.8 348.1L136.7 358.6l-3.4 -5.5M150.8 363.5L135.8 372.6M150.8 379L135.6 387.7M150.8 394.4L135.3 402.6M150.8 409.8L135.6 418.6l-2.8 -5.9M175.3 70.6L189.5 60.3M175.3 101.4L189.6 91.3l3.3 5.6M175.3 132.2L191.3 125.1l2.1 6.1M175.3 163.1L192.2 158.5l1.1 6.4M175.3 193.9L191.6 187.4l1.9 6.2M175.3 224.8L192.8 224.7M175.3 255.6L192.3 251.5M175.3 286.4L189.8 276.6l3.2 5.7M175.3 317.3L188.7 306.1l3.7 5.3M175.3 348.1L160.2 357l-2.8 -5.9M175.3 363.5L159.9 371.8l-2.6 -6M175.3 379L159.7 386.9l-2.4 -6M175.3 394.4L159.5 401.8M175.3 409.8L160.1 418.4M199.9 70.6L211 57l4.6 4.5M199.9 101.4L211.8 88.6l4.4 4.8M199.9 132.2L215.8 124.9l2.2 6.1M199.9 163.1L216.6 158l1.4 6.4M199.9 193.9L211.3 180.6M199.9 224.8L212.7 212.8M199.9 255.6L215 246.8l2.8 5.9M199.9 286.4L214.5 276.8l3.1 5.7M199.9 317.3L208.6 302.1l5.3 3.7M199.9 348.1L183.7 354.8l-1.9 -6.2M199.9 363.5L183.2 368.8l-1.4 -6.3M199.9 379L183.8 386l-2.1 -6.2M199.9 394.4L184.1 402l-2.3 -6.1M199.9 409.8L183.1 414.9l-1.4 -6.4M224.4 70.6L236.3 57.7l4.4 4.8M224.4 101.4L235.9 88.2l4.5 4.7M224.4 132.2L235 118.3l4.8 4.4M224.4 163.1L241.4 158.6l1.1 6.4M224.4 193.9L241.9 193.4l-0.4 6.5M224.4 224.8L241.9 224.4l-0.4 6.5M224.4 255.6L241.7 253l0.4 6.5M224.4 286.4L239.4 277.4l2.8 5.8M224.4 317.3L233.9 302.5M224.4 348.1L208.3 355l-2 -6.2M224.4 363.5L207.3 367.2l-0.8 -6.4M224.4 379L207.5 383.5l-1.1 -6.4M224.4 394.4L207.5 398.9l-1.1 -6.4M224.4 409.8L207.6 414.5l-1.2 -6.4M249 70.6L261.9 58.8l3.9 5.2M249 101.4L261.4 89.1l4.2 5M249 132.2L264.6 124.3l2.4 6M249 163.1L266.5 163l-0.6 6.5M249 193.9L266.4 196l-1.3 6.4M249 224.8L266.1 228.6l-2 6.2M249 255.6L266.4 254.1l-0 6.5M249 286.4L266.3 283.7l0.5 6.5M249 317.3L266.4 318.6l-1 6.4M249 348.1L231.6 349.8l-0.1 -6.5M249 363.5L234 354.6l3.8 -5.3M249 379L232.9 372.2l3 -5.7M249 394.4L233.3 386.6l3.4 -5.5M249 409.8L233.8 401.1M273.5 70.6L291 70.4l-0.5 6.5M273.5 101.4L290.9 103.5l-1.3 6.4M273.5 132.2L290.7 135.6l-1.8 6.3M273.5 163.1L290.9 164.9l-1.2 6.4M273.5 193.9L290.5 198.4l-2.2 6.1M273.5 224.8L290.8 227.5l-1.6 6.3M273.5 255.6L291 254.1l-0 6.5M273.5 286.4L290 280.5l1.7 6.3M273.5 317.3L287.9 307.3M273.5 348.1L269.9 331M273.5 363.5L260.3 352.1M273.5 379L261.6 366.2l5.1 -4M273.5 394.4L261.1 382.1M273.5 409.8L260.9 397.7l4.9 -4.3M298.1 70.6L314.8 75.8l-2.5 6M298.1 101.4L314.9 106.4l-2.4 6M298.1 132.2L314.8 137.5l-2.5 6M298.1 163.1L315 167.7l-2.2 6.1M298.1 193.9L314.9 199l-2.4 6M298.1 224.8L314.9 229.7M298.1 255.6L315.6 255.6l-0.6 6.5M298.1 286.4L314.5 280.3l1.7 6.3M298.1 317.3L312.7 307.6l3.1 5.7M298.1 348.1L290.3 332.5l6 -2.4M298.1 363.5L290.8 347.7M298.1 379L291.4 362.8l6.2 -1.9M298.1 394.4L290.2 378.8M298.1 409.8L291 393.8l6.1 -2.1M322.7 70.6L339.3 76l-2.6 6M322.7 101.4L339.1 107.5M322.7 132.2L339.6 136.7l-2.2 6.1M322.7 163.1L339.4 168.3M322.7 193.9L339.4 198.9l-2.4 6.1M322.7 224.8L339.7 228.7M322.7 255.6L340.2 255.2l-0.4 6.5M322.7 286.4L340.2 286.2l-0.5 6.5M322.7 317.3L339.5 312.7l1.2 6.4M322.7 348.1L335.1 335.8l4.2 5M322.7 363.5L317.1 346.9l6.3 -1.5M322.7 379L317.3 362.3l6.3 -1.4M322.7 394.4L320.4 377M322.7 409.8L317.2 393.2l6.3 -1.5M347.2 70.6L363.9 75.9l-2.5 6M347.2 101.4L363.8 106.9l-2.6 6M347.2 132.2L363.5 138.7l-2.9 5.8M347.2 163.1L364.5 166l-1.6 6.3M347.2 193.9L364.5 196.6l-1.5 6.3M347.2 224.8L364.2 229.2l-2.2 6.1M347.2 255.6L364.7 256.3l-0.8 6.4M347.2 286.4L364.6 288.1l-1.2 6.4M347.2 317.3L364.6 315.3l0.2 6.5M347.2 348.1L363.4 341.4l2 6.2M347.2 363.5L345.2 346.2l6.5 -0.2M347.2 379L345.4 361.6l6.5 -0.1M347.2 394.4L345.2 377l6.5 -0.2M347.2 409.8L345.3 392.4l6.5 -0.1M371.8 70.6L388.2 76.7l-2.8 5.9M371.8 101.4L388.7 105.9l-2.2 6.1M371.8 132.2L388 138.7M371.8 163.1L388.3 168.9l-2.7 5.9M371.8 193.9L388.4 199.5l-2.6 6M371.8 224.8L389 227.7l-1.6 6.3M371.8 255.6L389.3 256.6M371.8 286.4L389.1 289M371.8 317.3L389.2 315.3l0.2 6.5M371.8 348.1L387.6 340.7l2.2 6.1M371.8 363.5L369.1 346.3l6.5 -0.4M371.8 379L368.7 361.7l6.5 -0.6M371.8 394.4L371.5 376.9l6.5 0.5M371.8 409.8L369 392.5l6.5 -0.5M396.3 70.6L412.3 77.8l-3.2 5.7M396.3 101.4L413.3 105.7M396.3 132.2L412.8 138.3M396.3 163.1L413 168.3M396.3 193.9L412.8 199.9l-2.7 5.9M396.3 224.8L413.1 229.7l-2.4 6M396.3 255.6L413.5 259l-1.8 6.2M396.3 286.4L413.6 289.1l-1.6 6.3M396.3 317.3L413.7 315.1M396.3 348.1L410.7 338.1l3.3 5.6M396.3 363.5L395.6 346.1M396.3 379L394.4 361.6l6.5 -0.1M396.3 394.4L394.4 377l6.5 -0.1M396.3 409.8L396.3 392.3l6.5 0.5M420.9 70.6L437.5 76.1l-2.6 6M420.9 101.4L437.5 106.9l-2.6 6M420.9 132.2L433.6 144.3l-4.9 4.3M420.9 163.1L437.1 169.6l-2.9 5.8M420.9 193.9L437.5 199.4l-2.6 6M420.9 224.8L437.8 229.5l-2.3 6.1M420.9 255.6L438.1 258.8l-1.7 6.3M420.9 286.4L438.3 288.2l-1.2 6.4M420.9 317.3L438.3 315.7l0 6.5M420.9 348.1L430.7 333.7l5 4.1M420.9 363.5L421.7 346.1l6.4 0.9M420.9 379L420 361.5l6.5 0.2M420.9 394.4L419.1 377l6.5 -0.1M420.9 409.8L419.1 392.4l6.5 -0.1M445.5 70.6L462.1 75.9l-2.5 6M445.5 101.4L461.6 108M445.5 132.2L462.7 135.1l-1.6 6.3M445.5 163.1L462.3 167.9M445.5 193.9L462.2 199l-2.4 6M445.5 224.8L462.7 227.9l-1.7 6.3M445.5 255.6L462.8 258.2l-1.5 6.3M445.5 286.4L462.9 287l-0.8 6.5M445.5 317.3L462.6 313.6l0.8 6.4M445.5 348.1L450 331.2M445.5 363.5L445 346l6.5 0.4M445.5 379L444.9 361.5M445.5 394.4L446.2 376.9l6.4 0.9M445.5 409.8L445 392.3l6.5 0.4M470 70.6L486 77.8l-3.2 5.7M470 101.4L486.1 108.2M470 132.2L487.4 134.5l-1.4 6.3M470 163.1L486.9 167.6l-2.2 6.1M470 193.9L486.6 199.5M470 224.8L486.6 230.3l-2.6 6M470 255.6L487.4 257.3l-1.2 6.4M470 286.4L487.5 287l-0.8 6.5M470 317.3L487.4 315.5M470 348.1L474 331.1M470 363.5L469.2 346.1l6.5 0.3M470 379L470.7 361.5l6.4 0.8M470 394.4L468.4 377M470 409.8L469.1 392.3l6.5 0.2M494.6 70.6L510.9 76.8l-2.8 5.8M494.6 101.4L511.5 105.7l-2.1 6.1M494.6 132.2L511.8 135.5l-1.7 6.3M494.6 163.1L511.4 167.8l-2.3 6.1M494.6 193.9L510.7 200.7l-3 5.8M494.6 224.8L511.5 229.3l-2.2 6.1M494.6 255.6L511.9 257.7l-1.3 6.4M494.6 286.4L512.1 286.6M494.6 317.3L512 315.7l0 6.5M494.6 348.1L500.8 331.8l5.9 2.8M494.6 363.5L495.5 346.1l6.4 0.9M494.6 379L493.7 361.5l6.5 0.3M494.6 394.4L495.1 376.9M494.6 409.8L493.6 392.3l6.5 0.2M519.1 70.6L534.9 78.1l-3.3 5.6M519.1 101.4L535.5 107.5l-2.8 5.9M519.1 132.2L536 136.7l-2.2 6.1M519.1 163.1L535.3 169.8l-3 5.8M519.1 193.9L535.7 199.6l-2.6 5.9M519.1 224.8L535.9 229.8l-2.4 6M519.1 255.6L536.5 257.5M519.1 286.4L536.3 283l0.7 6.5M519.1 317.3L535.9 312.4l1.3 6.4M519.1 348.1L523.5 331.2l6.1 2.2M519.1 363.5L519.3 346l6.5 0.6M519.1 379L519.5 361.5l6.5 0.7M519.1 394.4L518.2 376.9l6.5 0.2M519.1 409.8L517.3 392.4l6.5 -0.1M543.7 70.6L560.1 76.6l-2.8 5.9M543.7 101.4L560.1 107.4l-2.7 5.9M543.7 132.2L560.9 135.4l-1.7 6.3M543.7 163.1L560 169.5l-2.9 5.8M543.7 193.9L560.4 199.1l-2.5 6M543.7 224.8L560.3 230.2l-2.6 6M543.7 255.6L561.1 257.3l-1.2 6.4M543.7 286.4L558.1 276.5l3.2 5.7M543.7 317.3L557.7 306.8M543.7 348.1L547.5 331l6.2 2M543.7 363.5L541.9 346.1l6.5 -0.1M543.7 379L544.4 361.5l6.4 0.8M543.7 394.4L542.2 376.9l6.5 0M543.7 409.8L543 392.3l6.5 0.3M568.2 70.6L584.9 75.9l-2.5 6M568.2 101.4L585.1 106l-2.2 6.1M568.2 132.2L585.5 135.4l-1.7 6.3M568.2 163.1L585.2 167.4l-2.1 6.1M568.2 193.9L585.3 197.7l-2 6.2M568.2 224.8L584.9 230.3l-2.6 6M568.2 255.6L585.5 258.3M568.2 286.4L583.5 277.8l2.7 5.9M568.2 317.3L582.7 307.4l3.2 5.7M568.2 348.1L574.2 331.6M568.2 363.5L568.5 346l6.5 0.6M568.2 379L569.1 361.5l6.4 0.9M568.2 394.4L568.2 376.9l6.5 0.5M568.2 409.8L566 392.4l6.5 -0.3M592.8 70.6L609.9 74.4l-2 6.2M592.8 101.4L610 104.8l-1.8 6.2M592.8 132.2L610.3 132.9l-0.8 6.4M592.8 163.1L610.2 164.7l-1.2 6.4M592.8 193.9L609.5 199l-2.4 6M592.8 224.8L609.6 229.5M592.8 255.6L608.6 248.1l2.3 6.1M592.8 286.4L607.7 277.3l2.9 5.8M592.8 317.3L606.1 305.9l3.8 5.3M592.8 348.1L597.6 331.3l6.1 2.3M592.8 363.5L592.4 346M592.8 379L591.6 361.5M592.8 394.4L592.9 376.9l6.5 0.6M592.8 409.8L593.5 392.3l6.4 0.8M617.4 70.6L634.4 66.7l0.9 6.4M617.4 101.4L634.3 96.9l1.1 6.4M617.4 132.2L633.8 126.3M617.4 163.1L634.7 165.5l-1.4 6.3M617.4 193.9L634.9 194.1l-0.6 6.5M617.4 224.8L634.6 227.9l-1.7 6.3M617.4 255.6L631.7 245.5l3.3 5.6M617.4 286.4L630.9 275.4l3.6 5.4M617.4 317.3L632.1 307.8l3 5.8M617.4 348.1L623 331.6l5.9 2.6M617.4 363.5L615.9 346.1l6.5 0M617.4 379L617.6 361.5l6.5 0.6M617.4 394.4L615.5 377M617.4 409.8L617.4 392.3l6.5 0.6M641.9 70.6L655.3 59.2l3.8 5.3M641.9 101.4L655.8 90.7l3.5 5.5M641.9 132.2L654.9 120.5l3.9 5.2M641.9 163.1L659.4 162.4l-0.3 6.5M641.9 193.9L659.3 192.2l0.1 6.5M641.9 224.8L659.1 228.3l-1.8 6.2M641.9 255.6L656.9 246.5l2.9 5.8M641.9 286.4L655.2 275l3.8 5.3M641.9 317.3L655.5 306.3l3.6 5.4M641.9 348.1L646.6 331.3l6.1 2.3M641.9 363.5L640.9 346.1l6.5 0.2M641.9 379L641.8 361.5l6.5 0.5M641.9 394.4L640.7 376.9l6.5 0.1M641.9 409.8L639.3 392.5M666.5 70.6L678.6 57.9l4.3 4.9M666.5 101.4L679.2 89.4l4 5.1M666.5 132.2L680.2 121.3l3.6 5.4M666.5 163.1L683 157.3l1.6 6.3M666.5 193.9L684 193.2l-0.3 6.5M666.5 224.8L683.1 230.3l-2.6 6M666.5 255.6L682.4 248.3l2.2 6.1M666.5 286.4L680.3 275.7l3.5 5.5M666.5 317.3L681.4 308.2l2.9 5.8M666.5 348.1L672.4 331.7l5.9 2.7M666.5 363.5L666.2 346M666.5 379L665.8 361.5l6.5 0.3M666.5 394.4L663.8 377.1l6.5 -0.4M666.5 409.8L664.3 392.4l6.5 -0.2M691 70.6L702.7 57.5l4.5 4.7M691 101.4L704.8 90.6l3.6 5.4M691 132.2L705.5 122.4l3.2 5.7M691 163.1L707.8 158.2M691 193.9L708.5 194l-0.6 6.5M691 224.8L708.1 228.6l-2 6.2M691 255.6L706.9 248.3l2.2 6.1M691 286.4L704.9 275.8M691 317.3L704.5 306.1l3.7 5.3M691 348.1L697.2 331.7l5.9 2.8M691 363.5L691.5 346l6.5 0.7M691 379L690.8 361.5l6.5 0.5M691 394.4L691.2 376.9l6.5 0.6M691 409.8L691.5 392.3l6.5 0.7M715.6 70.6L728.2 58.4l4.1 5M715.6 101.4L729.1 90.2l3.7 5.3M715.6 132.2L728.4 120.4l4 5.1M715.6 163.1L732.3 157.9l1.4 6.3M715.6 193.9L733.1 193.2l-0.3 6.5M715.6 224.8L732.5 229.2l-2.2 6.1M715.6 255.6L731.1 247.5l2.5 6M715.6 286.4L729.9 276.3l3.3 5.6M715.6 317.3L730.3 307.8l3 5.7M715.6 348.1L721.7 331.7M715.6 363.5L714.9 346.1M715.6 379L715.7 361.5l6.5 0.6M715.6 394.4L715.8 376.9l6.5 0.6M715.6 409.8L713.7 392.4l6.5 -0.1M740.2 70.6L751.8 57.5l4.4 4.7M740.2 101.4L754 90.7l3.5 5.5M740.2 132.2L753.7 121.2l3.7 5.4M740.2 163.1L756 155.7l2.2 6.1M740.2 193.9L757.5 191.5l0.4 6.5M740.2 224.8L757.3 228l-1.8 6.3M740.2 255.6L755.5 247.1l2.6 5.9M740.2 286.4L753.9 275.6M740.2 317.3L753.9 306.4l3.6 5.4M740.2 348.1L747.1 332.1l5.7 3.1M740.2 363.5L739.2 346.1l6.5 0.2M740.2 379L738.9 361.5l6.5 0.1M740.2 394.4L737.6 377.1l6.5 -0.4M740.2 409.8L740 392.3l6.5 0.5M764.7 70.6L776.3 57.4M764.7 101.4L776.7 88.7M764.7 132.2L777.1 119.9l4.2 5M764.7 163.1L780.8 156.2M764.7 193.9L782.2 192.8l-0.2 6.5M764.7 224.8L781.3 230.2M764.7 255.6L780.3 247.6l2.4 6M764.7 286.4L780.6 279l2.2 6.1M764.7 317.3L782 319.7l-1.5 6.3M764.7 348.1L770.7 331.7l5.9 2.8M764.7 363.5L763.4 346.1l6.5 0.1M764.7 379L764 361.5l6.5 0.3M764.7 394.4L762.6 377l6.5 -0.2M764.7 409.8L761.7 392.6l6.5 -0.6M789.3 70.6L804.8 62.4l2.5 6M789.3 101.4L804.6 93l2.6 6M789.3 132.2L805.2 125.1l2.1 6.1M789.3 163.1L806.2 158.8l1 6.4M789.3 193.9L806.7 192.1l0.1 6.5M789.3 224.8L806.4 228.3l-1.9 6.2M789.3 255.6L806.7 257l-1.1 6.4M789.3 286.4L806.2 290.8M789.3 317.3L805.7 323.2M789.3 348.1L781 332.7l6 -2.6M789.3 363.5L786.5 346.3M789.3 379L786.5 361.7l6.5 -0.5M789.3 394.4L785.8 377.2l6.5 -0.7M789.3 409.8L786.6 392.5M813.8 70.6L829.2 62.2M813.8 101.4L829 92.7l2.7 5.9M813.8 132.2L831.3 130.9l-0.1 6.5M813.8 163.1L831.3 164.1l-0.9 6.4M813.8 193.9L831.3 195.3l-1.1 6.4M813.8 224.8L830.9 228.5l-1.9 6.2M813.8 255.6L831.3 256.8l-1 6.4M813.8 286.4L830.9 290.4l-2 6.2M813.8 317.3L830.8 321.6l-2.2 6.1M813.8 348.1L804.8 333.1l5.8 -2.9M813.8 363.5L806.5 347.7l6.1 -2.2M813.8 379L808.3 362.3M813.8 394.4L809.3 377.5M813.8 409.8L807.2 393.6l6.2 -1.9M838.4 70.6L854.3 63.4l2.1 6.1M838.4 101.4L854.7 95l1.9 6.2M838.4 132.2L855.9 131.2M838.4 163.1L855.8 164.8l-1.2 6.4M838.4 193.9L855.2 198.6M838.4 224.8L855.5 228.6l-2 6.2M838.4 255.6L855.2 260.4l-2.3 6.1M838.4 286.4L855.8 288.3l-1.2 6.4M838.4 317.3L854.8 323.3l-2.8 5.9M838.4 348.1L828.2 333.9l5.6 -3.3M838.4 363.5L832.8 347l6.3 -1.5M838.4 379L833.5 362.2l6.4 -1.3M838.4 394.4L833.5 377.6l6.4 -1.3M838.4 409.8L830.8 394l6.1 -2.3M862.9 70.6L879.5 65l1.5 6.3M862.9 101.4L879 94.5l2 6.2M862.9 132.2L880.4 131.8l-0.4 6.5M862.9 163.1L880.1 166.3M862.9 193.9L880.1 197.1l-1.7 6.3M862.9 224.8L880.2 227.7l-1.6 6.3M862.9 255.6L879.7 260.6l-2.4 6M862.9 286.4L879.8 291.1M862.9 317.3L879.7 322.3l-2.4 6M862.9 348.1L855 332.5l6 -2.4M862.9 363.5L856.1 347.4M862.9 379L856.2 362.8l6.2 -2M862.9 394.4L855 378.8l6 -2.4M862.9 409.8L856.5 393.5M887.5 70.6L905 69.4l-0.1 6.5M887.5 101.4L904.9 99.3M887.5 132.2L904.7 135.2l-1.7 6.3M887.5 163.1L904.4 167.5l-2.2 6.1M887.5 193.9L904.8 196.4l-1.5 6.3M887.5 224.8L904.2 229.9M887.5 255.6L904.4 260.3l-2.3 6.1M887.5 286.4L904.8 289.2l-1.6 6.3M887.5 317.3L903.6 324.1l-3 5.7M887.5 348.1L880.2 332.2l6.1 -2.2M887.5 363.5L879.7 347.9l6 -2.4M887.5 379L880 363.2M887.5 394.4L881.4 378M887.5 409.8L880.7 393.7l6.2 -2M912.1 70.6L929.2 73.9l-1.8 6.2M912.1 101.4L929.3 104.4l-1.7 6.3M912.1 132.2L929.3 135.3M912.1 163.1L929.2 166.6l-1.9 6.2M912.1 193.9L929.2 197.4l-1.8 6.2M912.1 224.8L928.5 230.7M912.1 255.6L928.8 260.6l-2.4 6M912.1 286.4L928.9 291.2l-2.3 6.1M912.1 317.3L928.8 322.5M912.1 348.1L923.3 334.7l4.6 4.6M912.1 363.5L906.2 347.1M912.1 379L904.1 363.4l6 -2.5M912.1 394.4L903.9 378.9l6 -2.5M912.1 409.8L903.8 394.3M936.6 70.6L954 72.4l-1.3 6.4M936.6 101.4L954 103.7l-1.4 6.3M936.6 132.2L953.9 135.1l-1.6 6.3M936.6 163.1L952.9 169.4l-2.9 5.8M936.6 193.9L953.3 199.2l-2.5 6M936.6 224.8L953.7 228.5M936.6 255.6L953.9 258.6l-1.7 6.3M936.6 286.4L953.8 289.7l-1.8 6.3M936.6 317.3L953.2 322.9l-2.6 5.9M936.6 348.1L951.1 338.2M936.6 363.5L928.1 348.3M936.6 379L928.2 363.6M936.6 394.4L929.8 378.3l6.2 -2M936.6 409.8L928.1 394.5l5.9 -2.7M961.2 70.6L978 75.2l-2.3 6.1M961.2 101.4L978.5 104M961.2 132.2L978.1 136.7l-2.2 6.1M961.2 163.1L977.2 170l-3.1 5.7M961.2 193.9L978.2 197.8l-2 6.2M961.2 224.8L978.2 228.9M961.2 255.6L978.3 259.3l-1.9 6.2M961.2 286.4L978.5 288.5l-1.3 6.4M961.2 317.3L978 322.1M961.2 348.1L975 337.4l3.5 5.5M961.2 363.5L955.3 347.1M961.2 379L955.4 362.4l6.3 -1.6M961.2 394.4L953.3 378.8M961.2 409.8L953.7 394l6.1 -2.2M985.7 70.6L1002.9 73.9l-1.8 6.2M985.7 101.4L1002.9 104.9l-1.8 6.2M985.7 132.2L1002.6 136.8l-2.2 6.1M985.7 163.1L1002.3 168.6l-2.6 6M985.7 193.9L1002.7 198.3l-2.2 6.1M985.7 224.8L1002.3 230.5l-2.6 5.9M985.7 255.6L1002.5 260.5M985.7 286.4L1002.6 291.1l-2.3 6.1M985.7 317.3L1001.9 324M985.7 348.1L999.5 337.3l3.5 5.4M985.7 363.5L977.4 348.2l6 -2.6M985.7 379L980 362.4l6.3 -1.6M985.7 394.4L979.6 378l6.3 -1.7M985.7 409.8L976.8 394.8M1010.3 70.6L1026.9 76M1010.3 101.4L1027.1 106.4l-2.4 6M1010.3 132.2L1027.1 137.2l-2.4 6M1010.3 163.1L1026.7 169.1l-2.7 5.9M1010.3 193.9L1027.4 197.4l-1.8 6.2M1010.3 224.8L1027.3 228.7l-2 6.2M1010.3 255.6L1027.3 259.7l-2.1 6.2M1010.3 286.4L1027.5 289.4l-1.7 6.3M1010.3 317.3L1026.5 324M1010.3 348.1L1025.3 339.1M1010.3 363.5L1002.2 348M1010.3 379L1002.1 363.5l6 -2.5M1010.3 394.4L1002.9 378.5l6.1 -2.2M1010.3 409.8L1002.4 394.2l6 -2.4M1034.8 70.6L1051.9 74.5M1034.8 101.4L1051.8 105.9l-2.2 6.1M1034.8 132.2L1051.7 136.8M1034.8 163.1L1050.6 170.8l-3.4 5.6M1034.8 193.9L1051.7 198.7l-2.3 6.1M1034.8 224.8L1052.1 227.7l-1.7 6.3M1034.8 255.6L1051.4 261.3l-2.7 5.9M1034.8 286.4L1052.2 288.4M1034.8 317.3L1051.8 321.7M1034.8 348.1L1048.6 337.2l3.6 5.4M1034.8 363.5L1027.6 347.6M1034.8 379L1027.2 363.2M1034.8 394.4L1028.2 378.2l6.2 -2M1034.8 409.8L1026.8 394.3l6 -2.5M1059.4 70.6L1076.3 75.2l-2.3 6.1M1059.4 101.4L1076 106.9M1059.4 132.2L1076.1 137.4l-2.5 6M1059.4 163.1L1076.1 168.4l-2.5 6M1059.4 193.9L1076 199.5l-2.6 6M1059.4 224.8L1076.6 227.8l-1.7 6.3M1059.4 255.6L1076.5 259.4l-1.9 6.2M1059.4 286.4L1076.5 290.2M1059.4 317.3L1076.2 322.1l-2.3 6.1M1059.4 348.1L1073.9 338.3M1059.4 363.5L1053.4 347.1l6.3 -1.7M1059.4 379L1052.6 362.8l6.2 -2M1059.4 394.4L1053.3 378l6.3 -1.7M1059.4 409.8L1051.9 394M1084 70.6L1100.9 75.1l-2.2 6.1M1084 101.4L1100.2 107.8l-2.9 5.8M1084 132.2L1101 136.1l-2 6.2M1084 163.1L1100.4 169.1l-2.7 5.9M1084 193.9L1100.2 200.4l-2.9 5.8M1084 224.8L1101.1 228.5l-1.9 6.2M1084 255.6L1100.9 260.2l-2.2 6.1M1084 286.4L1101 290.5l-2.1 6.2M1084 317.3L1100.9 321.6l-2.2 6.1M1084 348.1L1098.5 338.4l3.1 5.7M1084 363.5L1075.2 348.4l5.9 -2.7M1084 379L1077.4 362.7M1084 394.4L1075.2 379.3l5.9 -2.8M1084 409.8L1076.5 394l6.1 -2.2"/></g><line x1="120.5" y1="70" x2="120.5" y2="865.5" stroke="#000" stroke-width="1.2"/><line x1="1090.5" y1="70" x2="1090.5" y2="1061" stroke="#000" stroke-width="1.2"/><line x1="119.7" y1="70.5" x2="1091.3" y2="70.5" stroke="#000" stroke-width="1.2"/><line x1="119.7" y1="440.5" x2="1091.3" y2="440.5" stroke="#000" stroke-width="1.2"/><line x1="119.7" y1="525.5" x2="1091.3" y2="525.5" stroke="#000" stroke-width="1.2"/><line x1="119.7" y1="610.3" x2="1091.3" y2="610.3" stroke="#000" stroke-width="1.2"/><line x1="119.7" y1="695.3" x2="1091.3" y2="695.3" stroke="#000" stroke-width="1.2"/><line x1="119.7" y1="780.3" x2="1091.3" y2="780.3" stroke="#000" stroke-width="1.2"/><line x1="119.7" y1="865.3" x2="1091.3" y2="865.3" stroke="#000" stroke-width="1.2"/><line x1="132.5" y1="950.3" x2="1090.5" y2="950.3" stroke="#000" stroke-width="1.2"/><line x1="132.5" y1="1060.6" x2="1090.5" y2="1060.6" stroke="#000" stroke-width="1.2"/><line x1="132.5" y1="865.3" x2="132.5" y2="1061" stroke="#000" stroke-width="1.2"/><line x1="175.3" y1="65.5" x2="175.3" y2="70" stroke="#000" stroke-width="1.2"/><text x="153.6" y="62.8" font-size="15.5" fill="#000" text-anchor="start" textLength="43.5" lengthAdjust="spacingAndGlyphs" stroke="#fff" stroke-width="0.2">12OCT</text><line x1="175.3" y1="1061" x2="175.3" y2="1065" stroke="#000" stroke-width="1.2"/><text x="153.6" y="1080.8" font-size="15.5" fill="#000" text-anchor="start" textLength="43.5" lengthAdjust="spacingAndGlyphs" stroke="#fff" stroke-width="0.2">12OCT</text><line x1="273.5" y1="65.5" x2="273.5" y2="70" stroke="#000" stroke-width="1.2"/><text x="251.8" y="62.8" font-size="15.5" fill="#000" text-anchor="start" textLength="43.5" lengthAdjust="spacingAndGlyphs" stroke="#fff" stroke-width="0.2">13OCT</text><line x1="273.5" y1="1061" x2="273.5" y2="1065" stroke="#000" stroke-width="1.2"/><text x="251.8" y="1080.8" font-size="15.5" fill="#000" text-anchor="start" textLength="43.5" lengthAdjust="spacingAndGlyphs" stroke="#fff" stroke-width="0.2">13OCT</text><line x1="371.8" y1="65.5" x2="371.8" y2="70" stroke="#000" stroke-width="1.2"/><text x="350" y="62.8" font-size="15.5" fill="#000" text-anchor="start" textLength="43.5" lengthAdjust="spacingAndGlyphs" stroke="#fff" stroke-width="0.2">14OCT</text><line x1="371.8" y1="1061" x2="371.8" y2="1065" stroke="#000" stroke-width="1.2"/><text x="350" y="1080.8" font-size="15.5" fill="#000" text-anchor="start" textLength="43.5" lengthAdjust="spacingAndGlyphs" stroke="#fff" stroke-width="0.2">14OCT</text><line x1="470" y1="65.5" x2="470" y2="70" stroke="#000" stroke-width="1.2"/><text x="448.2" y="62.8" font-size="15.5" fill="#000" text-anchor="start" textLength="43.5" lengthAdjust="spacingAndGlyphs" stroke="#fff" stroke-width="0.2">15OCT</text><line x1="470" y1="1061" x2="470" y2="1065" stroke="#000" stroke-width="1.2"/><text x="448.2" y="1080.8" font-size="15.5" fill="#000" text-anchor="start" textLength="43.5" lengthAdjust="spacingAndGlyphs" stroke="#fff" stroke-width="0.2">15OCT</text><line x1="568.2" y1="65.5" x2="568.2" y2="70" stroke="#000" stroke-width="1.2"/><text x="546.5" y="62.8" font-size="15.5" fill="#000" text-anchor="start" textLength="43.5" lengthAdjust="spacingAndGlyphs" stroke="#fff" stroke-width="0.2">16OCT</text><line x1="568.2" y1="1061" x2="568.2" y2="1065" stroke="#000" stroke-width="1.2"/><text x="546.5" y="1080.8" font-size="15.5" fill="#000" text-anchor="start" textLength="43.5" lengthAdjust="spacingAndGlyphs" stroke="#fff" stroke-width="0.2">16OCT</text><line x1="666.5" y1="65.5" x2="666.5" y2="70" stroke="#000" stroke-width="1.2"/><text x="644.7" y="62.8" font-size="15.5" fill="#000" text-anchor="start" textLength="43.5" lengthAdjust="spacingAndGlyphs" stroke="#fff" stroke-width="0.2">17OCT</text><line x1="666.5" y1="1061" x2="666.5" y2="1065" stroke="#000" stroke-width="1.2"/><text x="644.7" y="1080.8" font-size="15.5" fill="#000" text-anchor="start" textLength="43.5" lengthAdjust="spacingAndGlyphs" stroke="#fff" stroke-width="0.2">17OCT</text><line x1="764.7" y1="65.5" x2="764.7" y2="70" stroke="#000" stroke-width="1.2"/><text x="742.9" y="62.8" font-size="15.5" fill="#000" text-anchor="start" textLength="43.5" lengthAdjust="spacingAndGlyphs" stroke="#fff" stroke-width="0.2">18OCT</text><line x1="764.7" y1="1061" x2="764.7" y2="1065" stroke="#000" stroke-width="1.2"/><text x="742.9" y="1080.8" font-size="15.5" fill="#000" text-anchor="start" textLength="43.5" lengthAdjust="spacingAndGlyphs" stroke="#fff" stroke-width="0.2">18OCT</text><line x1="862.9" y1="65.5" x2="862.9" y2="70" stroke="#000" stroke-width="1.2"/><text x="841.2" y="62.8" font-size="15.5" fill="#000" text-anchor="start" textLength="43.5" lengthAdjust="spacingAndGlyphs" stroke="#fff" stroke-width="0.2">19OCT</text><line x1="862.9" y1="1061" x2="862.9" y2="1065" stroke="#000" stroke-width="1.2"/><text x="841.2" y="1080.8" font-size="15.5" fill="#000" text-anchor="start" textLength="43.5" lengthAdjust="spacingAndGlyphs" stroke="#fff" stroke-width="0.2">19OCT</text><line x1="961.1" y1="65.5" x2="961.1" y2="70" stroke="#000" stroke-width="1.2"/><text x="939.4" y="62.8" font-size="15.5" fill="#000" text-anchor="start" textLength="43.5" lengthAdjust="spacingAndGlyphs" stroke="#fff" stroke-width="0.2">20OCT</text><line x1="961.1" y1="1061" x2="961.1" y2="1065" stroke="#000" stroke-width="1.2"/><text x="939.4" y="1080.8" font-size="15.5" fill="#000" text-anchor="start" textLength="43.5" lengthAdjust="spacingAndGlyphs" stroke="#fff" stroke-width="0.2">20OCT</text><line x1="1059.4" y1="65.5" x2="1059.4" y2="70" stroke="#000" stroke-width="1.2"/><text x="1037.6" y="62.8" font-size="15.5" fill="#000" text-anchor="start" textLength="43.5" lengthAdjust="spacingAndGlyphs" stroke="#fff" stroke-width="0.2">21OCT</text><line x1="1059.4" y1="1061" x2="1059.4" y2="1065" stroke="#000" stroke-width="1.2"/><text x="1037.6" y="1080.8" font-size="15.5" fill="#000" text-anchor="start" textLength="43.5" lengthAdjust="spacingAndGlyphs" stroke="#fff" stroke-width="0.2">21OCT</text><line x1="116.5" y1="101.4" x2="120.5" y2="101.4" stroke="#000" stroke-width="1.2"/><text x="91.5" y="106.6" font-size="14.5" fill="#000" text-anchor="start" textLength="22.5" lengthAdjust="spacingAndGlyphs" stroke="#fff" stroke-width="0.2">500</text><line x1="116.5" y1="163.1" x2="120.5" y2="163.1" stroke="#000" stroke-width="1.2"/><text x="91.5" y="168.3" font-size="14.5" fill="#000" text-anchor="start" textLength="22.5" lengthAdjust="spacingAndGlyphs" stroke="#fff" stroke-width="0.2">600</text><line x1="116.5" y1="224.8" x2="120.5" y2="224.8" stroke="#000" stroke-width="1.2"/><text x="91.5" y="230" font-size="14.5" fill="#000" text-anchor="start" textLength="22.5" lengthAdjust="spacingAndGlyphs" stroke="#fff" stroke-width="0.2">700</text><line x1="116.5" y1="286.4" x2="120.5" y2="286.4" stroke="#000" stroke-width="1.2"/><text x="91.5" y="291.6" font-size="14.5" fill="#000" text-anchor="start" textLength="22.5" lengthAdjust="spacingAndGlyphs" stroke="#fff" stroke-width="0.2">800</text><line x1="116.5" y1="348.1" x2="120.5" y2="348.1" stroke="#000" stroke-width="1.2"/><text x="91.5" y="353.3" font-size="14.5" fill="#000" text-anchor="start" textLength="22.5" lengthAdjust="spacingAndGlyphs" stroke="#fff" stroke-width="0.2">900</text><line x1="116.5" y1="409.8" x2="120.5" y2="409.8" stroke="#000" stroke-width="1.2"/><text x="84" y="415" font-size="14.5" fill="#000" text-anchor="start" textLength="30" lengthAdjust="spacingAndGlyphs" stroke="#fff" stroke-width="0.2">1000</text><defs><linearGradient id="rhg" x1="0" x2="1" y1="0" y2="0"><stop offset="0" stop-color="#00dc00"/><stop offset="0.25" stop-color="#00dc00"/><stop offset="0.25" stop-color="#78d778"/><stop offset="0.5" stop-color="#78d778"/><stop offset="0.5" stop-color="#a0cda0"/><stop offset="0.75" stop-color="#a0cda0"/><stop offset="0.75" stop-color="#c8d7c8"/><stop offset="1" stop-color="#c8d7c8"/></linearGradient></defs><rect x="40" y="282" width="6" height="54" fill="#00dc00"/><rect x="46" y="282" width="6" height="54" fill="#64d764"/><rect x="52" y="282" width="6" height="54" fill="#96d796"/><rect x="58" y="282" width="5" height="54" fill="#c8d7c8"/><text x="56.5" y="334" font-size="15" fill="#000" text-anchor="start" transform="rotate(-90 56.5 334)" textLength="50" lengthAdjust="spacingAndGlyphs">RH (%)</text><text x="55.5" y="264.5" font-size="15" fill="#fa3c3c" text-anchor="start" transform="rotate(-90 55.5 264.5)" stroke="#fff" stroke-width="0.2">T</text><text x="55.5" y="256.5" font-size="15" fill="#f08228" text-anchor="start" transform="rotate(-90 55.5 256.5)" stroke="#fff" stroke-width="0.2">e</text><text x="55.5" y="248.9" font-size="15" fill="#f08228" text-anchor="start" transform="rotate(-90 55.5 248.9)" stroke="#fff" stroke-width="0.2">m</text><text x="55.5" y="237.1" font-size="15" fill="#e6af2d" text-anchor="start" transform="rotate(-90 55.5 237.1)" stroke="#fff" stroke-width="0.2">p</text><text x="55.5" y="229.5" font-size="15" fill="#a0e632" text-anchor="start" transform="rotate(-90 55.5 229.5)" stroke="#fff" stroke-width="0.2">e</text><text x="55.5" y="221.9" font-size="15" fill="#00dc00" text-anchor="start" transform="rotate(-90 55.5 221.9)" stroke="#fff" stroke-width="0.2">r</text><text x="55.5" y="216.9" font-size="15" fill="#00c8c8" text-anchor="start" transform="rotate(-90 55.5 216.9)" stroke="#fff" stroke-width="0.2">a</text><text x="55.5" y="209.3" font-size="15" fill="#00a0ff" text-anchor="start" transform="rotate(-90 55.5 209.3)" stroke="#fff" stroke-width="0.2">t</text><text x="55.5" y="205.1" font-size="15" fill="#1e3cff" text-anchor="start" transform="rotate(-90 55.5 205.1)" stroke="#fff" stroke-width="0.2">u</text><text x="55.5" y="197.5" font-size="15" fill="#8200dc" text-anchor="start" transform="rotate(-90 55.5 197.5)" stroke="#fff" stroke-width="0.2">r</text><text x="55.5" y="192.5" font-size="15" fill="#a000c8" text-anchor="start" transform="rotate(-90 55.5 192.5)" stroke="#fff" stroke-width="0.2">e</text><text x="55.5" y="173" font-size="15" fill="#fa3c3c" text-anchor="start" transform="rotate(-90 55.5 173)" textLength="24" lengthAdjust="spacingAndGlyphs" stroke="#fff" stroke-width="0.2">(°C)</text><text x="55.5" y="147.5" font-size="15" fill="#000" text-anchor="start" transform="rotate(-90 55.5 147.5)" textLength="78" lengthAdjust="spacingAndGlyphs" stroke="#fff" stroke-width="0.2">Wind (m/s)</text><text x="86" y="325" font-size="15" fill="#000" text-anchor="start" transform="rotate(-90 86 325)" textLength="147" lengthAdjust="spacing" stroke="#fff" stroke-width="0.2">(millibars)</text><line x1="120.5" y1="444.5" x2="1090.5" y2="444.5" stroke="#a0a0a0" stroke-width="1" stroke-dasharray="4 2.5" shape-rendering="crispEdges"/><line x1="120.5" y1="465.5" x2="1090.5" y2="465.5" stroke="#a0a0a0" stroke-width="1" stroke-dasharray="4 2.5" shape-rendering="crispEdges"/><line x1="120.5" y1="485.5" x2="1090.5" y2="485.5" stroke="#a0a0a0" stroke-width="1" stroke-dasharray="4 2.5" shape-rendering="crispEdges"/><line x1="120.5" y1="505.5" x2="1090.5" y2="505.5" stroke="#a0a0a0" stroke-width="1" stroke-dasharray="4 2.5" shape-rendering="crispEdges"/><clipPath id="pc2"><rect x="121" y="441" width="969" height="84"/></clipPath><g clip-path="url(#pc2)"><polyline points="126.2,485.8 138.5,489.4 150.8,486.3 163,472.1 175.3,485.3 187.6,513 199.9,519.4 212.2,516.5 224.4,510.2 236.7,491 249,488.7 261.3,491 273.5,497.6 285.8,503.1 298.1,508.7 310.4,510.6 322.7,495.3 334.9,481.1 347.2,474 359.5,470.7 371.8,487.5 384.1,505.4 396.3,505.4 408.6,503.1 420.9,504.3 433.2,503.5 445.5,484.2 457.7,472.8 470,471.6 482.3,492.4 494.6,503.1 506.8,502.8 519.1,492.4 531.4,483 543.7,469.3 556,465.7 568.2,467.6 580.5,464.5 592.8,467.4 605.1,474.5 617.4,471.6 629.6,457.5 641.9,449.7 654.2,446.1 666.5,449.7 678.8,458.2 691,477.5 703.3,482.7 715.6,478 727.9,468.6 740.2,466.2 752.4,469.3 764.7,484.6 777,501.7 789.3,511.3 801.5,509.5 813.8,492.2 826.1,483.5 838.4,479.2 850.7,481.6 862.9,487 875.2,502.8 887.5,504.3 899.8,512.5 912.1,505.9 924.3,491 936.6,478.7 948.9,480.6 961.2,487.7 973.5,486.5 985.7,493.4 998,499.3 1010.3,501.2 1022.6,491.3 1034.8,472.8 1047.1,488.9 1059.4,497.6 1071.7,502.8 1084,503.5 1096.2,516.5" fill="none" stroke="#00c8c8" stroke-width="1.1"/><path d="M126.2 483.2l-3.6 4.4h7.2zM138.5 486.8l-3.6 4.4h7.2zM150.8 483.7l-3.6 4.4h7.2zM163 469.5l-3.6 4.4h7.2zM175.3 482.7l-3.6 4.4h7.2zM187.6 510.4l-3.6 4.4h7.2zM199.9 516.8l-3.6 4.4h7.2zM212.2 513.9l-3.6 4.4h7.2zM224.4 507.6l-3.6 4.4h7.2zM236.7 488.4l-3.6 4.4h7.2zM249 486.1l-3.6 4.4h7.2zM261.3 488.4l-3.6 4.4h7.2zM273.5 495l-3.6 4.4h7.2zM285.8 500.5l-3.6 4.4h7.2zM298.1 506.1l-3.6 4.4h7.2zM310.4 508l-3.6 4.4h7.2zM322.7 492.7l-3.6 4.4h7.2zM334.9 478.5l-3.6 4.4h7.2zM347.2 471.4l-3.6 4.4h7.2zM359.5 468.1l-3.6 4.4h7.2zM371.8 484.9l-3.6 4.4h7.2zM384.1 502.8l-3.6 4.4h7.2zM396.3 502.8l-3.6 4.4h7.2zM408.6 500.5l-3.6 4.4h7.2zM420.9 501.7l-3.6 4.4h7.2zM433.2 500.9l-3.6 4.4h7.2zM445.5 481.6l-3.6 4.4h7.2zM457.7 470.2l-3.6 4.4h7.2zM470 469l-3.6 4.4h7.2zM482.3 489.8l-3.6 4.4h7.2zM494.6 500.5l-3.6 4.4h7.2zM506.8 500.2l-3.6 4.4h7.2zM519.1 489.8l-3.6 4.4h7.2zM531.4 480.4l-3.6 4.4h7.2zM543.7 466.7l-3.6 4.4h7.2zM556 463.1l-3.6 4.4h7.2zM568.2 465l-3.6 4.4h7.2zM580.5 461.9l-3.6 4.4h7.2zM592.8 464.8l-3.6 4.4h7.2zM605.1 471.9l-3.6 4.4h7.2zM617.4 469l-3.6 4.4h7.2zM629.6 454.9l-3.6 4.4h7.2zM641.9 447.1l-3.6 4.4h7.2zM654.2 443.5l-3.6 4.4h7.2zM666.5 447.1l-3.6 4.4h7.2zM678.8 455.6l-3.6 4.4h7.2zM691 474.9l-3.6 4.4h7.2zM703.3 480.1l-3.6 4.4h7.2zM715.6 475.4l-3.6 4.4h7.2zM727.9 466l-3.6 4.4h7.2zM740.2 463.6l-3.6 4.4h7.2zM752.4 466.7l-3.6 4.4h7.2zM764.7 482l-3.6 4.4h7.2zM777 499.1l-3.6 4.4h7.2zM789.3 508.7l-3.6 4.4h7.2zM801.5 506.9l-3.6 4.4h7.2zM813.8 489.6l-3.6 4.4h7.2zM826.1 480.9l-3.6 4.4h7.2zM838.4 476.6l-3.6 4.4h7.2zM850.7 479l-3.6 4.4h7.2zM862.9 484.4l-3.6 4.4h7.2zM875.2 500.2l-3.6 4.4h7.2zM887.5 501.7l-3.6 4.4h7.2zM899.8 509.9l-3.6 4.4h7.2zM912.1 503.3l-3.6 4.4h7.2zM924.3 488.4l-3.6 4.4h7.2zM936.6 476.1l-3.6 4.4h7.2zM948.9 478l-3.6 4.4h7.2zM961.2 485.1l-3.6 4.4h7.2zM973.5 483.9l-3.6 4.4h7.2zM985.7 490.8l-3.6 4.4h7.2zM998 496.7l-3.6 4.4h7.2zM1010.3 498.6l-3.6 4.4h7.2zM1022.6 488.7l-3.6 4.4h7.2zM1034.8 470.2l-3.6 4.4h7.2zM1047.1 486.3l-3.6 4.4h7.2zM1059.4 495l-3.6 4.4h7.2zM1071.7 500.2l-3.6 4.4h7.2zM1084 500.9l-3.6 4.4h7.2zM1096.2 513.9l-3.6 4.4h7.2z" fill="none" stroke="#00c8c8" stroke-width="1"/><polyline points="126.2,474 138.5,498.1 150.8,491 163,481.8 175.3,484.2 187.6,488.2 199.9,491 212.2,470.9 224.4,472.8 236.7,503.1 249,501.2 261.3,479.9 273.5,481.8 285.8,501.9 298.1,503.1 310.4,484.2 322.7,481.1 334.9,507.8 347.2,509 359.5,480.4 371.8,472.8 384.1,480.6 396.3,480.6 408.6,457 420.9,449.7 433.2,470.5 445.5,475.7 457.7,456.3 470,461 482.3,466.4 494.6,462.9 506.8,445.6 519.1,448 531.4,478 543.7,478.7 556,457.9 568.2,464.5 580.5,491 592.8,489.8 605.1,469.3 617.4,474.7 629.6,505.4 641.9,509 654.2,494.1 666.5,500.5 678.8,519.6 691,514.9 703.3,491 715.6,489.8 727.9,518.9 740.2,516.1 752.4,497.6 764.7,488.2 777,498.3 789.3,495.7 801.5,472.8 813.8,470.9 826.1,498.8 838.4,495.3 850.7,470.5 862.9,468.1 875.2,483 887.5,481.8 899.8,457.5 912.1,458.6 924.3,487.5 936.6,488.9 948.9,463.4 961.2,457.9 973.5,481.6 985.7,479.9 998,457.9 1010.3,452 1022.6,476.8 1034.8,481.8 1047.1,452 1059.4,450.8 1071.7,471.6 1084,472.8" fill="none" stroke="#1e3cff" stroke-width="2.2" stroke-linejoin="round"/></g><line x1="69.5" y1="440.5" x2="69.5" y2="526" stroke="#000" stroke-width="1.2"/><line x1="65" y1="444.7" x2="69.5" y2="444.7" stroke="#000" stroke-width="1.2"/><text x="40.5" y="450.2" font-size="14.5" fill="#000" text-anchor="start" textLength="21.5" lengthAdjust="spacingAndGlyphs" stroke="#fff" stroke-width="0.2">579</text><line x1="65" y1="465.1" x2="69.5" y2="465.1" stroke="#000" stroke-width="1.2"/><text x="40.5" y="470.6" font-size="14.5" fill="#000" text-anchor="start" textLength="21.5" lengthAdjust="spacingAndGlyphs" stroke="#fff" stroke-width="0.2">578</text><line x1="65" y1="485.5" x2="69.5" y2="485.5" stroke="#000" stroke-width="1.2"/><text x="40.5" y="491" font-size="14.5" fill="#000" text-anchor="start" textLength="21.5" lengthAdjust="spacingAndGlyphs" stroke="#fff" stroke-width="0.2">577</text><line x1="65" y1="505.5" x2="69.5" y2="505.5" stroke="#000" stroke-width="1.2"/><text x="40.5" y="511" font-size="14.5" fill="#000" text-anchor="start" textLength="21.5" lengthAdjust="spacingAndGlyphs" stroke="#fff" stroke-width="0.2">576</text><line x1="116.5" y1="451.6" x2="120.5" y2="451.6" stroke="#000" stroke-width="1.2"/><text x="84.5" y="456.8" font-size="14.5" fill="#000" text-anchor="start" textLength="29" lengthAdjust="spacingAndGlyphs" stroke="#fff" stroke-width="0.2">1014</text><line x1="116.5" y1="476.2" x2="120.5" y2="476.2" stroke="#000" stroke-width="1.2"/><text x="84.5" y="481.4" font-size="14.5" fill="#000" text-anchor="start" textLength="29" lengthAdjust="spacingAndGlyphs" stroke="#fff" stroke-width="0.2">1012</text><line x1="116.5" y1="501.7" x2="120.5" y2="501.7" stroke="#000" stroke-width="1.2"/><text x="84.5" y="506.9" font-size="14.5" fill="#000" text-anchor="start" textLength="29" lengthAdjust="spacingAndGlyphs" stroke="#fff" stroke-width="0.2">1010</text><text x="20" y="527" font-size="16" fill="#00c8c8" text-anchor="start" transform="rotate(-90 20 527)" textLength="91" lengthAdjust="spacingAndGlyphs" stroke="#fff" stroke-width="0.2">1000−500mb</text><text x="39" y="528" font-size="16" fill="#00c8c8" text-anchor="start" transform="rotate(-90 39 528)" textLength="93" lengthAdjust="spacingAndGlyphs" stroke="#fff" stroke-width="0.2">Thcknss (dm)</text><text x="85.5" y="518.5" font-size="16" fill="#1e3cff" text-anchor="start" transform="rotate(-90 85.5 518.5)" textLength="69" lengthAdjust="spacingAndGlyphs" stroke="#fff" stroke-width="0.2">SLP (mb)</text><line x1="120.5" y1="547.5" x2="1090.5" y2="547.5" stroke="#a0a0a0" stroke-width="1" stroke-dasharray="4 2.5" shape-rendering="crispEdges"/><line x1="120.5" y1="568.5" x2="1090.5" y2="568.5" stroke="#a0a0a0" stroke-width="1" stroke-dasharray="4 2.5" shape-rendering="crispEdges"/><line x1="120.5" y1="589.5" x2="1090.5" y2="589.5" stroke="#a0a0a0" stroke-width="1" stroke-dasharray="4 2.5" shape-rendering="crispEdges"/><rect x="122.6" y="542" width="7.2" height="68.3" fill="#c878fa"/><rect x="134.9" y="537" width="7.2" height="73.3" fill="#c878fa"/><rect x="147.2" y="529" width="7.2" height="81.3" fill="#c878fa"/><rect x="159.4" y="531.1" width="7.2" height="79.2" fill="#c878fa"/><rect x="171.7" y="538.9" width="7.2" height="71.4" fill="#c878fa"/><rect x="184" y="547.9" width="7.2" height="62.4" fill="#c878fa"/><rect x="196.3" y="544.8" width="7.2" height="65.5" fill="#c878fa"/><rect x="208.6" y="547.9" width="7.2" height="62.4" fill="#c878fa"/><rect x="220.8" y="546" width="7.2" height="64.3" fill="#c878fa"/><rect x="233.1" y="544.1" width="7.2" height="66.2" fill="#c878fa"/><rect x="245.4" y="557.1" width="7.2" height="53.2" fill="#c878fa"/><rect x="257.7" y="563" width="7.2" height="47.3" fill="#c878fa"/><rect x="269.9" y="564" width="7.2" height="46.3" fill="#c878fa"/><rect x="282.2" y="562.1" width="7.2" height="48.2" fill="#c878fa"/><rect x="294.5" y="568.5" width="7.2" height="41.8" fill="#c878fa"/><rect x="306.8" y="577.2" width="7.2" height="33.1" fill="#c878fa"/><rect x="319.1" y="579.1" width="7.2" height="31.2" fill="#c878fa"/><rect x="331.3" y="585" width="7.2" height="25.3" fill="#c878fa"/><rect x="343.6" y="583.1" width="7.2" height="27.2" fill="#c878fa"/><rect x="355.9" y="583.8" width="7.2" height="26.5" fill="#c878fa"/><rect x="368.2" y="582.2" width="7.2" height="28.1" fill="#c878fa"/><rect x="380.5" y="581" width="7.2" height="29.3" fill="#c878fa"/><rect x="392.7" y="581" width="7.2" height="29.3" fill="#c878fa"/><rect x="405" y="583.1" width="7.2" height="27.2" fill="#c878fa"/><rect x="417.3" y="577.9" width="7.2" height="32.4" fill="#c878fa"/><rect x="429.6" y="580.3" width="7.2" height="30" fill="#c878fa"/><rect x="441.9" y="572" width="7.2" height="38.3" fill="#c878fa"/><rect x="454.1" y="569.2" width="7.2" height="41.1" fill="#c878fa"/><rect x="466.4" y="572" width="7.2" height="38.3" fill="#c878fa"/><rect x="478.7" y="575.1" width="7.2" height="35.2" fill="#c878fa"/><rect x="491" y="573.2" width="7.2" height="37.1" fill="#c878fa"/><rect x="503.2" y="577.9" width="7.2" height="32.4" fill="#c878fa"/><rect x="515.5" y="577.9" width="7.2" height="32.4" fill="#c878fa"/><rect x="527.8" y="582.2" width="7.2" height="28.1" fill="#c878fa"/><rect x="540.1" y="583.1" width="7.2" height="27.2" fill="#c878fa"/><rect x="552.4" y="581" width="7.2" height="29.3" fill="#c878fa"/><rect x="564.6" y="582.2" width="7.2" height="28.1" fill="#c878fa"/><rect x="576.9" y="583.1" width="7.2" height="27.2" fill="#c878fa"/><rect x="589.2" y="585" width="7.2" height="25.3" fill="#c878fa"/><rect x="601.5" y="583.1" width="7.2" height="27.2" fill="#c878fa"/><rect x="613.8" y="577.9" width="7.2" height="32.4" fill="#c878fa"/><rect x="626" y="577.9" width="7.2" height="32.4" fill="#c878fa"/><rect x="638.3" y="582.2" width="7.2" height="28.1" fill="#c878fa"/><rect x="650.6" y="580.3" width="7.2" height="30" fill="#c878fa"/><rect x="662.9" y="582.2" width="7.2" height="28.1" fill="#c878fa"/><rect x="675.2" y="577.2" width="7.2" height="33.1" fill="#c878fa"/><rect x="687.4" y="575.1" width="7.2" height="35.2" fill="#c878fa"/><rect x="699.7" y="577.2" width="7.2" height="33.1" fill="#c878fa"/><rect x="712" y="574.1" width="7.2" height="36.2" fill="#c878fa"/><rect x="724.3" y="577.2" width="7.2" height="33.1" fill="#c878fa"/><rect x="736.6" y="579.1" width="7.2" height="31.2" fill="#c878fa"/><rect x="748.8" y="585" width="7.2" height="25.3" fill="#c878fa"/><rect x="761.1" y="586.2" width="7.2" height="24.1" fill="#c878fa"/><rect x="773.4" y="579.1" width="7.2" height="31.2" fill="#c878fa"/><rect x="785.7" y="576" width="7.2" height="34.3" fill="#c878fa"/><rect x="797.9" y="574.1" width="7.2" height="36.2" fill="#c878fa"/><rect x="810.2" y="573.2" width="7.2" height="37.1" fill="#c878fa"/><rect x="822.5" y="570.1" width="7.2" height="40.2" fill="#c878fa"/><rect x="834.8" y="568.5" width="7.2" height="41.8" fill="#c878fa"/><rect x="847.1" y="568.5" width="7.2" height="41.8" fill="#c878fa"/><rect x="859.3" y="567.3" width="7.2" height="43" fill="#c878fa"/><rect x="871.6" y="567.3" width="7.2" height="43" fill="#c878fa"/><rect x="883.9" y="568.5" width="7.2" height="41.8" fill="#c878fa"/><rect x="896.2" y="568.5" width="7.2" height="41.8" fill="#c878fa"/><rect x="908.5" y="568" width="7.2" height="42.3" fill="#c878fa"/><rect x="920.7" y="566.1" width="7.2" height="44.2" fill="#c878fa"/><rect x="933" y="564.9" width="7.2" height="45.4" fill="#c878fa"/><rect x="945.3" y="564.2" width="7.2" height="46.1" fill="#c878fa"/><rect x="957.6" y="564.2" width="7.2" height="46.1" fill="#c878fa"/><rect x="969.9" y="561.4" width="7.2" height="48.9" fill="#c878fa"/><rect x="982.1" y="563" width="7.2" height="47.3" fill="#c878fa"/><rect x="994.4" y="566.1" width="7.2" height="44.2" fill="#c878fa"/><rect x="1006.7" y="567.3" width="7.2" height="43" fill="#c878fa"/><rect x="1019" y="564.9" width="7.2" height="45.4" fill="#c878fa"/><rect x="1031.2" y="566.1" width="7.2" height="44.2" fill="#c878fa"/><rect x="1043.5" y="563" width="7.2" height="47.3" fill="#c878fa"/><rect x="1055.8" y="564.2" width="7.2" height="46.1" fill="#c878fa"/><rect x="1068.1" y="564.9" width="7.2" height="45.4" fill="#c878fa"/><rect x="1080.4" y="568.5" width="7.2" height="41.8" fill="#c878fa"/><line x1="120.5" y1="568.5" x2="1090.5" y2="568.5" stroke="#fa3c3c" stroke-width="1.1" stroke-dasharray="3.8 2.6"/><clipPath id="pc3"><rect x="121" y="526" width="969" height="84"/></clipPath><g clip-path="url(#pc3)"><polyline points="224.4,521.2 236.7,522.4 249,529.5 261.3,531.1 273.5,527.6 285.8,524.3 298.1,529.5 310.4,539.4 322.7,539.4 334.9,540.6 347.2,538.2 359.5,536.5 371.8,536.5 384.1,539.4 396.3,538.2 408.6,544.1 420.9,547.9 433.2,543.2 445.5,541.7 457.7,535.4 470,539.4 482.3,542.5 494.6,540.1 506.8,536.5 519.1,536.5 531.4,540.6 543.7,544.1 556,539.4 568.2,535.8 580.5,534.7 592.8,538.2 605.1,538.2 617.4,535.8 629.6,541.3 641.9,546 654.2,546 666.5,541.7 678.8,538.9 691,545.5 703.3,547.2 715.6,545.3 727.9,547.2 740.2,549.5 752.4,554.7 764.7,555.9 777,544.1 789.3,544.8 801.5,543.2 813.8,544.1 826.1,541.7 838.4,537 850.7,536.1 862.9,536.5 875.2,535.8 887.5,538.2 899.8,538.2 912.1,534.7 924.3,535.8 936.6,534.7 948.9,529.9 961.2,527.6 973.5,524.3 985.7,528.3 998,530.6 1010.3,534.7 1022.6,533.5 1034.8,534.7 1047.1,533.5 1059.4,529 1071.7,530.6 1084,531.8 1096.2,528.5" fill="none" stroke="#fa3c3c" stroke-width="1.1"/><path d="M224.4 518l-2.6 3.2l2.6 3.2l2.6-3.2zm0 0v6.4M236.7 519.2l-2.6 3.2l2.6 3.2l2.6-3.2zm0 0v6.4M249 526.3l-2.6 3.2l2.6 3.2l2.6-3.2zm0 0v6.4M261.3 527.9l-2.6 3.2l2.6 3.2l2.6-3.2zm0 0v6.4M273.5 524.4l-2.6 3.2l2.6 3.2l2.6-3.2zm0 0v6.4M285.8 521.1l-2.6 3.2l2.6 3.2l2.6-3.2zm0 0v6.4M298.1 526.3l-2.6 3.2l2.6 3.2l2.6-3.2zm0 0v6.4M310.4 536.2l-2.6 3.2l2.6 3.2l2.6-3.2zm0 0v6.4M322.7 536.2l-2.6 3.2l2.6 3.2l2.6-3.2zm0 0v6.4M334.9 537.4l-2.6 3.2l2.6 3.2l2.6-3.2zm0 0v6.4M347.2 535l-2.6 3.2l2.6 3.2l2.6-3.2zm0 0v6.4M359.5 533.3l-2.6 3.2l2.6 3.2l2.6-3.2zm0 0v6.4M371.8 533.3l-2.6 3.2l2.6 3.2l2.6-3.2zm0 0v6.4M384.1 536.2l-2.6 3.2l2.6 3.2l2.6-3.2zm0 0v6.4M396.3 535l-2.6 3.2l2.6 3.2l2.6-3.2zm0 0v6.4M408.6 540.9l-2.6 3.2l2.6 3.2l2.6-3.2zm0 0v6.4M420.9 544.7l-2.6 3.2l2.6 3.2l2.6-3.2zm0 0v6.4M433.2 540l-2.6 3.2l2.6 3.2l2.6-3.2zm0 0v6.4M445.5 538.5l-2.6 3.2l2.6 3.2l2.6-3.2zm0 0v6.4M457.7 532.2l-2.6 3.2l2.6 3.2l2.6-3.2zm0 0v6.4M470 536.2l-2.6 3.2l2.6 3.2l2.6-3.2zm0 0v6.4M482.3 539.3l-2.6 3.2l2.6 3.2l2.6-3.2zm0 0v6.4M494.6 536.9l-2.6 3.2l2.6 3.2l2.6-3.2zm0 0v6.4M506.8 533.3l-2.6 3.2l2.6 3.2l2.6-3.2zm0 0v6.4M519.1 533.3l-2.6 3.2l2.6 3.2l2.6-3.2zm0 0v6.4M531.4 537.4l-2.6 3.2l2.6 3.2l2.6-3.2zm0 0v6.4M543.7 540.9l-2.6 3.2l2.6 3.2l2.6-3.2zm0 0v6.4M556 536.2l-2.6 3.2l2.6 3.2l2.6-3.2zm0 0v6.4M568.2 532.6l-2.6 3.2l2.6 3.2l2.6-3.2zm0 0v6.4M580.5 531.5l-2.6 3.2l2.6 3.2l2.6-3.2zm0 0v6.4M592.8 535l-2.6 3.2l2.6 3.2l2.6-3.2zm0 0v6.4M605.1 535l-2.6 3.2l2.6 3.2l2.6-3.2zm0 0v6.4M617.4 532.6l-2.6 3.2l2.6 3.2l2.6-3.2zm0 0v6.4M629.6 538.1l-2.6 3.2l2.6 3.2l2.6-3.2zm0 0v6.4M641.9 542.8l-2.6 3.2l2.6 3.2l2.6-3.2zm0 0v6.4M654.2 542.8l-2.6 3.2l2.6 3.2l2.6-3.2zm0 0v6.4M666.5 538.5l-2.6 3.2l2.6 3.2l2.6-3.2zm0 0v6.4M678.8 535.7l-2.6 3.2l2.6 3.2l2.6-3.2zm0 0v6.4M691 542.3l-2.6 3.2l2.6 3.2l2.6-3.2zm0 0v6.4M703.3 544l-2.6 3.2l2.6 3.2l2.6-3.2zm0 0v6.4M715.6 542.1l-2.6 3.2l2.6 3.2l2.6-3.2zm0 0v6.4M727.9 544l-2.6 3.2l2.6 3.2l2.6-3.2zm0 0v6.4M740.2 546.3l-2.6 3.2l2.6 3.2l2.6-3.2zm0 0v6.4M752.4 551.5l-2.6 3.2l2.6 3.2l2.6-3.2zm0 0v6.4M764.7 552.7l-2.6 3.2l2.6 3.2l2.6-3.2zm0 0v6.4M777 540.9l-2.6 3.2l2.6 3.2l2.6-3.2zm0 0v6.4M789.3 541.6l-2.6 3.2l2.6 3.2l2.6-3.2zm0 0v6.4M801.5 540l-2.6 3.2l2.6 3.2l2.6-3.2zm0 0v6.4M813.8 540.9l-2.6 3.2l2.6 3.2l2.6-3.2zm0 0v6.4M826.1 538.5l-2.6 3.2l2.6 3.2l2.6-3.2zm0 0v6.4M838.4 533.8l-2.6 3.2l2.6 3.2l2.6-3.2zm0 0v6.4M850.7 532.9l-2.6 3.2l2.6 3.2l2.6-3.2zm0 0v6.4M862.9 533.3l-2.6 3.2l2.6 3.2l2.6-3.2zm0 0v6.4M875.2 532.6l-2.6 3.2l2.6 3.2l2.6-3.2zm0 0v6.4M887.5 535l-2.6 3.2l2.6 3.2l2.6-3.2zm0 0v6.4M899.8 535l-2.6 3.2l2.6 3.2l2.6-3.2zm0 0v6.4M912.1 531.5l-2.6 3.2l2.6 3.2l2.6-3.2zm0 0v6.4M924.3 532.6l-2.6 3.2l2.6 3.2l2.6-3.2zm0 0v6.4M936.6 531.5l-2.6 3.2l2.6 3.2l2.6-3.2zm0 0v6.4M948.9 526.7l-2.6 3.2l2.6 3.2l2.6-3.2zm0 0v6.4M961.2 524.4l-2.6 3.2l2.6 3.2l2.6-3.2zm0 0v6.4M973.5 521.1l-2.6 3.2l2.6 3.2l2.6-3.2zm0 0v6.4M985.7 525.1l-2.6 3.2l2.6 3.2l2.6-3.2zm0 0v6.4M998 527.4l-2.6 3.2l2.6 3.2l2.6-3.2zm0 0v6.4M1010.3 531.5l-2.6 3.2l2.6 3.2l2.6-3.2zm0 0v6.4M1022.6 530.3l-2.6 3.2l2.6 3.2l2.6-3.2zm0 0v6.4M1034.8 531.5l-2.6 3.2l2.6 3.2l2.6-3.2zm0 0v6.4M1047.1 530.3l-2.6 3.2l2.6 3.2l2.6-3.2zm0 0v6.4M1059.4 525.8l-2.6 3.2l2.6 3.2l2.6-3.2zm0 0v6.4M1071.7 527.4l-2.6 3.2l2.6 3.2l2.6-3.2zm0 0v6.4M1084 528.6l-2.6 3.2l2.6 3.2l2.6-3.2zm0 0v6.4M1096.2 525.3l-2.6 3.2l2.6 3.2l2.6-3.2zm0 0v6.4" fill="none" stroke="#fa3c3c" stroke-width="0.9"/></g><line x1="50.3" y1="525.7" x2="50.3" y2="610.6" stroke="#000" stroke-width="1.2"/><line x1="46" y1="526" x2="50.3" y2="526" stroke="#000" stroke-width="1.2"/><text x="43.5" y="531.2" font-size="14.5" fill="#000" text-anchor="end" stroke="#fff" stroke-width="0.2">−6</text><line x1="46" y1="547.4" x2="50.3" y2="547.4" stroke="#000" stroke-width="1.2"/><text x="43.5" y="552.6" font-size="14.5" fill="#000" text-anchor="end" stroke="#fff" stroke-width="0.2">−3</text><line x1="46" y1="568.7" x2="50.3" y2="568.7" stroke="#000" stroke-width="1.2"/><text x="43.5" y="573.9" font-size="14.5" fill="#000" text-anchor="end" stroke="#fff" stroke-width="0.2">0</text><line x1="46" y1="589.6" x2="50.3" y2="589.6" stroke="#000" stroke-width="1.2"/><text x="43.5" y="594.8" font-size="14.5" fill="#000" text-anchor="end" stroke="#fff" stroke-width="0.2">3</text><line x1="46" y1="610.5" x2="50.3" y2="610.5" stroke="#000" stroke-width="1.2"/><text x="43.5" y="615.7" font-size="14.5" fill="#000" text-anchor="end" stroke="#fff" stroke-width="0.2">6</text><line x1="116.5" y1="547.4" x2="120.5" y2="547.4" stroke="#000" stroke-width="1.2"/><text x="84.5" y="552.6" font-size="14.5" fill="#000" text-anchor="start" textLength="29" lengthAdjust="spacingAndGlyphs" stroke="#fff" stroke-width="0.2">2499</text><line x1="116.5" y1="568.7" x2="120.5" y2="568.7" stroke="#000" stroke-width="1.2"/><text x="84.5" y="573.9" font-size="14.5" fill="#000" text-anchor="start" textLength="29" lengthAdjust="spacingAndGlyphs" stroke="#fff" stroke-width="0.2">1666</text><line x1="116.5" y1="589.6" x2="120.5" y2="589.6" stroke="#000" stroke-width="1.2"/><text x="92" y="594.8" font-size="14.5" fill="#000" text-anchor="start" textLength="21.5" lengthAdjust="spacingAndGlyphs" stroke="#fff" stroke-width="0.2">833</text><text x="24" y="609" font-size="16" fill="#fa3c3c" text-anchor="start" transform="rotate(-90 24 609)" textLength="82" lengthAdjust="spacingAndGlyphs" stroke="#fff" stroke-width="0.2">Lifted Index</text><text x="85.5" y="611.5" font-size="16" fill="#c878fa" text-anchor="start" transform="rotate(-90 85.5 611.5)" textLength="87" lengthAdjust="spacingAndGlyphs" stroke="#fff" stroke-width="0.2">CAPE (J/kg)</text><line x1="120.5" y1="626.5" x2="1090.5" y2="626.5" stroke="#a0a0a0" stroke-width="1" stroke-dasharray="4 2.5" shape-rendering="crispEdges"/><line x1="120.5" y1="643.5" x2="1090.5" y2="643.5" stroke="#a0a0a0" stroke-width="1" stroke-dasharray="4 2.5" shape-rendering="crispEdges"/><line x1="120.5" y1="660.5" x2="1090.5" y2="660.5" stroke="#a0a0a0" stroke-width="1" stroke-dasharray="4 2.5" shape-rendering="crispEdges"/><line x1="120.5" y1="678.5" x2="1090.5" y2="678.5" stroke="#a0a0a0" stroke-width="1" stroke-dasharray="4 2.5" shape-rendering="crispEdges"/><clipPath id="pc4"><rect x="121" y="611" width="969" height="84"/></clipPath><g clip-path="url(#pc4)"><path d="M126.2 651.8L105.7 666.1l-5.4 -4.5M138.5 651.8L116.8 664.3l-4.9 -4.9M150.8 651.8L128.1 662.4l-4.5 -5.4M163 651.8L138.9 658.3l-3.5 -6.1M175.3 651.8L150.3 652.7l-2 -6.7M187.6 651.8L162.6 651.8l-1.8 -6.8M199.9 651.8L175.1 655.3l-2.7 -6.4M212.2 651.8L188.7 660.4l-4 -5.7M224.4 651.8L203.5 665.4l-5.2 -4.7M236.7 651.8L213.5 642.4l0.9 -6.9M249 651.8L228.5 637.5l2.4 -6.6M261.3 651.8L246.9 631.3l4.5 -5.4M273.5 651.8L261 630.1l4.9 -4.9M285.8 651.8L275.3 629.1l5.4 -4.5M298.1 651.8L294.6 627l6.4 -2.7M310.4 651.8L313.9 627l6.9 -0.9M322.7 651.8L327.9 627.3l7 -0.4M334.9 651.8L330.6 627.2l6.3 -3M347.2 651.8L338.7 628.3l5.7 -4M359.5 651.8L341.8 634.1l3.5 -6.1M371.8 651.8L355.7 632.6l4 -5.7M384.1 651.8L369.7 631.3l4.5 -5.4M396.3 651.8L392 627.2l6.3 -3M408.6 651.8L417.2 628.3l7 0.6M420.9 651.8L406.6 631.3l4.5 -5.4M433.2 651.8L411.5 639.3l1.8 -6.8M445.5 651.8L439 627.7l6.1 -3.5M457.7 651.8L444.1 630.8l4.7 -5.2M470 651.8L461.5 628.3l5.7 -4M482.3 651.8L480.1 626.9l6.6 -2.4M494.6 651.8L493.3 626.8l6.7 -2.2M506.8 651.8L504.7 626.9l6.6 -2.4M519.1 651.8L510.6 628.3l5.7 -4M531.4 651.8L521.6 628.8l5.5 -4.3M543.7 651.8L534.3 628.6l5.6 -4.2M556 651.8L546.2 628.8l5.5 -4.3M568.2 651.8L556.5 629.7l5.1 -4.8M580.5 651.8L575.3 627.3l6.2 -3.2M592.8 651.8L588.5 627.2l6.3 -3M605.1 651.8L602 627l6.5 -2.6M617.4 651.8L614.7 626.9l6.5 -2.5M629.6 651.8L627 626.9l6.5 -2.5M641.9 651.8L638.9 627l6.5 -2.6M654.2 651.8L645.6 628.3l5.7 -4M666.5 651.8L657.9 628.3l5.7 -4M678.8 651.8L673.6 627.3l6.2 -3.2M691 651.8L692.3 626.8l6.8 -1.5M703.3 651.8L703.3 626.8l6.8 -1.8M715.6 651.8L715.6 626.8l6.8 -1.8M727.9 651.8L725.3 626.9l6.5 -2.5M740.2 651.8L735.8 627.2l6.3 -3M752.4 651.8L745.1 627.9l5.9 -3.7M764.7 651.8L757 628l5.9 -3.8M777 651.8L772.6 627.2l6.3 -3M789.3 651.8L788.4 626.8l6.7 -2M801.5 651.8L802 626.8l6.8 -1.7M813.8 651.8L803.3 629.1l5.4 -4.5M826.1 651.8L810 632.6l4 -5.7M838.4 651.8L820.7 634.1l3.5 -6.1M850.7 651.8L837 630.8l4.7 -5.2M862.9 651.8L848.6 631.3l4.5 -5.4M875.2 651.8L863.9 629.5l5.2 -4.7M887.5 651.8L875 630.1l4.9 -4.9M899.8 651.8L895.4 627.2l6.3 -3M912.1 651.8L908.6 627l6.4 -2.7M924.3 651.8L913.8 629.1l5.4 -4.5M936.6 651.8L925.3 629.5l5.2 -4.7M948.9 651.8L934.6 631.3l4.5 -5.4M961.2 651.8L946.8 631.3l4.5 -5.4M973.5 651.8L967.4 627.5l6.1 -3.4M985.7 651.8L982.7 627l6.5 -2.6M998 651.8L1002.4 627.2l7 -0.6M1010.3 651.8L1017.6 627.9l7 0.2M1022.6 651.8L1005.8 633.2l3.8 -5.9M1034.8 651.8L1015.1 636.4l2.7 -6.4M1047.1 651.8L1024.5 641.2l1.2 -6.9M1059.4 651.8L1036.7 641.2l1.2 -6.9M1071.7 651.8L1049.6 640.1l1.6 -6.8M1084 651.8L1066.6 633.8l3.6 -6" fill="none" stroke="#786450" stroke-width="1.1"/><polyline points="126.2,653.5 138.5,644 150.8,648 163,636.4 175.3,638.8 187.6,670 199.9,664.1 212.2,672.4 224.4,658.2 236.7,645.7 249,649.9 261.3,649.4 273.5,649.9 285.8,655.8 298.1,647.1 310.4,644 322.7,649.2 334.9,646.8 347.2,644.7 359.5,647.5 371.8,652.3 384.1,664.1 396.3,662.4 408.6,665.3 420.9,670 433.2,689.4 445.5,668.8 457.7,658.7 470,645.2 482.3,671.2 494.6,665.7 506.8,671.7 519.1,657.5 531.4,652.7 543.7,651.6 556,643.3 568.2,634.5 580.5,628.6 592.8,627.9 605.1,636.7 617.4,639.3 629.6,628.6 641.9,625.8 654.2,620.4 666.5,620.8 678.8,616.1 691,621.1 703.3,637.6 715.6,640.9 727.9,639.7 740.2,639.7 752.4,636.4 764.7,640.9 777,653 789.3,655.8 801.5,670 813.8,681.1 826.1,667.6 838.4,660.5 850.7,654.6 862.9,658.2 875.2,653.5 887.5,658.7 899.8,665.3 912.1,665.3 924.3,658.7 936.6,645.2 948.9,645.7 961.2,654.6 973.5,641.6 985.7,640.9 998,645.7 1010.3,661 1022.6,652.3 1034.8,638.1 1047.1,639.3 1059.4,642.8 1071.7,636.9 1084,633.4 1096.2,636.4" fill="none" stroke="#fa8c14" stroke-width="1.2"/><path d="M126.2 650.1l-2.8 3.4l2.8 3.4l2.8-3.4zm0 0v6.8M138.5 640.6l-2.8 3.4l2.8 3.4l2.8-3.4zm0 0v6.8M150.8 644.6l-2.8 3.4l2.8 3.4l2.8-3.4zm0 0v6.8M163 633l-2.8 3.4l2.8 3.4l2.8-3.4zm0 0v6.8M175.3 635.4l-2.8 3.4l2.8 3.4l2.8-3.4zm0 0v6.8M187.6 666.6l-2.8 3.4l2.8 3.4l2.8-3.4zm0 0v6.8M199.9 660.7l-2.8 3.4l2.8 3.4l2.8-3.4zm0 0v6.8M212.2 669l-2.8 3.4l2.8 3.4l2.8-3.4zm0 0v6.8M224.4 654.8l-2.8 3.4l2.8 3.4l2.8-3.4zm0 0v6.8M236.7 642.3l-2.8 3.4l2.8 3.4l2.8-3.4zm0 0v6.8M249 646.5l-2.8 3.4l2.8 3.4l2.8-3.4zm0 0v6.8M261.3 646l-2.8 3.4l2.8 3.4l2.8-3.4zm0 0v6.8M273.5 646.5l-2.8 3.4l2.8 3.4l2.8-3.4zm0 0v6.8M285.8 652.4l-2.8 3.4l2.8 3.4l2.8-3.4zm0 0v6.8M298.1 643.7l-2.8 3.4l2.8 3.4l2.8-3.4zm0 0v6.8M310.4 640.6l-2.8 3.4l2.8 3.4l2.8-3.4zm0 0v6.8M322.7 645.8l-2.8 3.4l2.8 3.4l2.8-3.4zm0 0v6.8M334.9 643.4l-2.8 3.4l2.8 3.4l2.8-3.4zm0 0v6.8M347.2 641.3l-2.8 3.4l2.8 3.4l2.8-3.4zm0 0v6.8M359.5 644.1l-2.8 3.4l2.8 3.4l2.8-3.4zm0 0v6.8M371.8 648.9l-2.8 3.4l2.8 3.4l2.8-3.4zm0 0v6.8M384.1 660.7l-2.8 3.4l2.8 3.4l2.8-3.4zm0 0v6.8M396.3 659l-2.8 3.4l2.8 3.4l2.8-3.4zm0 0v6.8M408.6 661.9l-2.8 3.4l2.8 3.4l2.8-3.4zm0 0v6.8M420.9 666.6l-2.8 3.4l2.8 3.4l2.8-3.4zm0 0v6.8M433.2 686l-2.8 3.4l2.8 3.4l2.8-3.4zm0 0v6.8M445.5 665.4l-2.8 3.4l2.8 3.4l2.8-3.4zm0 0v6.8M457.7 655.3l-2.8 3.4l2.8 3.4l2.8-3.4zm0 0v6.8M470 641.8l-2.8 3.4l2.8 3.4l2.8-3.4zm0 0v6.8M482.3 667.8l-2.8 3.4l2.8 3.4l2.8-3.4zm0 0v6.8M494.6 662.3l-2.8 3.4l2.8 3.4l2.8-3.4zm0 0v6.8M506.8 668.3l-2.8 3.4l2.8 3.4l2.8-3.4zm0 0v6.8M519.1 654.1l-2.8 3.4l2.8 3.4l2.8-3.4zm0 0v6.8M531.4 649.3l-2.8 3.4l2.8 3.4l2.8-3.4zm0 0v6.8M543.7 648.2l-2.8 3.4l2.8 3.4l2.8-3.4zm0 0v6.8M556 639.9l-2.8 3.4l2.8 3.4l2.8-3.4zm0 0v6.8M568.2 631.1l-2.8 3.4l2.8 3.4l2.8-3.4zm0 0v6.8M580.5 625.2l-2.8 3.4l2.8 3.4l2.8-3.4zm0 0v6.8M592.8 624.5l-2.8 3.4l2.8 3.4l2.8-3.4zm0 0v6.8M605.1 633.3l-2.8 3.4l2.8 3.4l2.8-3.4zm0 0v6.8M617.4 635.9l-2.8 3.4l2.8 3.4l2.8-3.4zm0 0v6.8M629.6 625.2l-2.8 3.4l2.8 3.4l2.8-3.4zm0 0v6.8M641.9 622.4l-2.8 3.4l2.8 3.4l2.8-3.4zm0 0v6.8M654.2 617l-2.8 3.4l2.8 3.4l2.8-3.4zm0 0v6.8M666.5 617.4l-2.8 3.4l2.8 3.4l2.8-3.4zm0 0v6.8M678.8 612.7l-2.8 3.4l2.8 3.4l2.8-3.4zm0 0v6.8M691 617.7l-2.8 3.4l2.8 3.4l2.8-3.4zm0 0v6.8M703.3 634.2l-2.8 3.4l2.8 3.4l2.8-3.4zm0 0v6.8M715.6 637.5l-2.8 3.4l2.8 3.4l2.8-3.4zm0 0v6.8M727.9 636.3l-2.8 3.4l2.8 3.4l2.8-3.4zm0 0v6.8M740.2 636.3l-2.8 3.4l2.8 3.4l2.8-3.4zm0 0v6.8M752.4 633l-2.8 3.4l2.8 3.4l2.8-3.4zm0 0v6.8M764.7 637.5l-2.8 3.4l2.8 3.4l2.8-3.4zm0 0v6.8M777 649.6l-2.8 3.4l2.8 3.4l2.8-3.4zm0 0v6.8M789.3 652.4l-2.8 3.4l2.8 3.4l2.8-3.4zm0 0v6.8M801.5 666.6l-2.8 3.4l2.8 3.4l2.8-3.4zm0 0v6.8M813.8 677.7l-2.8 3.4l2.8 3.4l2.8-3.4zm0 0v6.8M826.1 664.2l-2.8 3.4l2.8 3.4l2.8-3.4zm0 0v6.8M838.4 657.1l-2.8 3.4l2.8 3.4l2.8-3.4zm0 0v6.8M850.7 651.2l-2.8 3.4l2.8 3.4l2.8-3.4zm0 0v6.8M862.9 654.8l-2.8 3.4l2.8 3.4l2.8-3.4zm0 0v6.8M875.2 650.1l-2.8 3.4l2.8 3.4l2.8-3.4zm0 0v6.8M887.5 655.3l-2.8 3.4l2.8 3.4l2.8-3.4zm0 0v6.8M899.8 661.9l-2.8 3.4l2.8 3.4l2.8-3.4zm0 0v6.8M912.1 661.9l-2.8 3.4l2.8 3.4l2.8-3.4zm0 0v6.8M924.3 655.3l-2.8 3.4l2.8 3.4l2.8-3.4zm0 0v6.8M936.6 641.8l-2.8 3.4l2.8 3.4l2.8-3.4zm0 0v6.8M948.9 642.3l-2.8 3.4l2.8 3.4l2.8-3.4zm0 0v6.8M961.2 651.2l-2.8 3.4l2.8 3.4l2.8-3.4zm0 0v6.8M973.5 638.2l-2.8 3.4l2.8 3.4l2.8-3.4zm0 0v6.8M985.7 637.5l-2.8 3.4l2.8 3.4l2.8-3.4zm0 0v6.8M998 642.3l-2.8 3.4l2.8 3.4l2.8-3.4zm0 0v6.8M1010.3 657.6l-2.8 3.4l2.8 3.4l2.8-3.4zm0 0v6.8M1022.6 648.9l-2.8 3.4l2.8 3.4l2.8-3.4zm0 0v6.8M1034.8 634.7l-2.8 3.4l2.8 3.4l2.8-3.4zm0 0v6.8M1047.1 635.9l-2.8 3.4l2.8 3.4l2.8-3.4zm0 0v6.8M1059.4 639.4l-2.8 3.4l2.8 3.4l2.8-3.4zm0 0v6.8M1071.7 633.5l-2.8 3.4l2.8 3.4l2.8-3.4zm0 0v6.8M1084 630l-2.8 3.4l2.8 3.4l2.8-3.4zm0 0v6.8M1096.2 633l-2.8 3.4l2.8 3.4l2.8-3.4zm0 0v6.8" fill="none" stroke="#fa8c14" stroke-width="0.9"/></g><line x1="116.5" y1="626.4" x2="120.5" y2="626.4" stroke="#000" stroke-width="1.2"/><text x="113" y="631.6" font-size="14.5" fill="#000" text-anchor="end" stroke="#fff" stroke-width="0.2">8</text><line x1="116.5" y1="643.6" x2="120.5" y2="643.6" stroke="#000" stroke-width="1.2"/><text x="113" y="648.8" font-size="14.5" fill="#000" text-anchor="end" stroke="#fff" stroke-width="0.2">6</text><line x1="116.5" y1="660.7" x2="120.5" y2="660.7" stroke="#000" stroke-width="1.2"/><text x="113" y="665.9" font-size="14.5" fill="#000" text-anchor="end" stroke="#fff" stroke-width="0.2">4</text><line x1="116.5" y1="677.9" x2="120.5" y2="677.9" stroke="#000" stroke-width="1.2"/><text x="113" y="683.1" font-size="14.5" fill="#000" text-anchor="end" stroke="#fff" stroke-width="0.2">2</text><line x1="116.5" y1="695" x2="120.5" y2="695" stroke="#000" stroke-width="1.2"/><text x="113" y="700.2" font-size="14.5" fill="#000" text-anchor="end" stroke="#fff" stroke-width="0.2">0</text><text x="20" y="686.5" font-size="16" fill="#fa8c14" text-anchor="start" transform="rotate(-90 20 686.5)" textLength="67.5" lengthAdjust="spacingAndGlyphs" stroke="#fff" stroke-width="0.2">10m Wind</text><text x="40" y="673" font-size="16" fill="#fa8c14" text-anchor="start" transform="rotate(-90 40 673)" textLength="40.5" lengthAdjust="spacingAndGlyphs" stroke="#fff" stroke-width="0.2">Speed</text><text x="61" y="689" font-size="16" fill="#967864" text-anchor="start" transform="rotate(-90 61 689)" textLength="65" lengthAdjust="spacingAndGlyphs" stroke="#fff" stroke-width="0.2">&amp; Barbs</text><text x="83" y="673" font-size="16" fill="#000" text-anchor="start" transform="rotate(-90 83 673)" textLength="40.5" lengthAdjust="spacingAndGlyphs" stroke="#fff" stroke-width="0.2">(m/s)</text><polygon points="126,752.6 126.2,703.7 138.5,701.3 150.8,705.4 163,707 175.3,707.7 187.6,708.4 199.9,710.1 212.2,708.4 224.4,707 236.7,705.8 249,707.7 261.3,711.3 273.5,710.1 285.8,711.7 298.1,712.5 310.4,710.1 322.7,706.5 334.9,705.4 347.2,706.1 359.5,706.8 371.8,708.9 384.1,711.7 396.3,713.6 408.6,711.7 420.9,710.6 433.2,708.2 445.5,707 457.7,708.2 470,708.4 482.3,709.6 494.6,710.8 506.8,709.6 519.1,708.2 531.4,708.2 543.7,708.9 556,710.1 568.2,711.3 580.5,712.9 592.8,712.5 605.1,710.1 617.4,708.2 629.6,708.2 641.9,708.2 654.2,708.2 666.5,708.2 678.8,707.3 691,708.9 703.3,708.2 715.6,708.2 727.9,708.2 740.2,709.4 752.4,712.5 764.7,714.3 777,718.8 789.3,719.1 801.5,718.8 813.8,717.2 826.1,713.6 838.4,714.8 850.7,716.5 862.9,718.8 875.2,720.7 887.5,721.2 899.8,719.5 912.1,716.5 924.3,714.1 936.6,712 948.9,710.8 961.2,712 973.5,713.6 985.7,713.2 998,711.7 1010.3,709.4 1022.6,707.7 1034.8,708.9 1047.1,708.9 1059.4,710.1 1071.7,712 1084,712.5 1084,752.6" fill="#ffb43c"/><clipPath id="pc5"><rect x="121" y="696" width="969" height="13.4"/></clipPath><polygon points="126,710.4 126.2,703.7 138.5,701.3 150.8,705.4 163,707 175.3,707.7 187.6,708.4 199.9,710.1 212.2,708.4 224.4,707 236.7,705.8 249,707.7 261.3,711.3 273.5,710.1 285.8,711.7 298.1,712.5 310.4,710.1 322.7,706.5 334.9,705.4 347.2,706.1 359.5,706.8 371.8,708.9 384.1,711.7 396.3,713.6 408.6,711.7 420.9,710.6 433.2,708.2 445.5,707 457.7,708.2 470,708.4 482.3,709.6 494.6,710.8 506.8,709.6 519.1,708.2 531.4,708.2 543.7,708.9 556,710.1 568.2,711.3 580.5,712.9 592.8,712.5 605.1,710.1 617.4,708.2 629.6,708.2 641.9,708.2 654.2,708.2 666.5,708.2 678.8,707.3 691,708.9 703.3,708.2 715.6,708.2 727.9,708.2 740.2,709.4 752.4,712.5 764.7,714.3 777,718.8 789.3,719.1 801.5,718.8 813.8,717.2 826.1,713.6 838.4,714.8 850.7,716.5 862.9,718.8 875.2,720.7 887.5,721.2 899.8,719.5 912.1,716.5 924.3,714.1 936.6,712 948.9,710.8 961.2,712 973.5,713.6 985.7,713.2 998,711.7 1010.3,709.4 1022.6,707.7 1034.8,708.9 1047.1,708.9 1059.4,710.1 1071.7,712 1084,712.5 1084,710.4" fill="#ff6e00" clip-path="url(#pc5)"/><rect x="126" y="752.6" width="958" height="26.9" fill="#f5ff78"/><line x1="120.5" y1="709.5" x2="1090.5" y2="709.5" stroke="#a0a0a0" stroke-width="1" stroke-dasharray="4 2.5" shape-rendering="crispEdges"/><line x1="120.5" y1="752.5" x2="1090.5" y2="752.5" stroke="#a0a0a0" stroke-width="1" stroke-dasharray="4 2.5" shape-rendering="crispEdges"/><polyline points="126.2,703.7 138.5,701.3 150.8,705.4 163,707 175.3,707.7 187.6,708.4 199.9,710.1 212.2,708.4 224.4,707 236.7,705.8 249,707.7 261.3,711.3 273.5,710.1 285.8,711.7 298.1,712.5 310.4,710.1 322.7,706.5 334.9,705.4 347.2,706.1 359.5,706.8 371.8,708.9 384.1,711.7 396.3,713.6 408.6,711.7 420.9,710.6 433.2,708.2 445.5,707 457.7,708.2 470,708.4 482.3,709.6 494.6,710.8 506.8,709.6 519.1,708.2 531.4,708.2 543.7,708.9 556,710.1 568.2,711.3 580.5,712.9 592.8,712.5 605.1,710.1 617.4,708.2 629.6,708.2 641.9,708.2 654.2,708.2 666.5,708.2 678.8,707.3 691,708.9 703.3,708.2 715.6,708.2 727.9,708.2 740.2,709.4 752.4,712.5 764.7,714.3 777,718.8 789.3,719.1 801.5,718.8 813.8,717.2 826.1,713.6 838.4,714.8 850.7,716.5 862.9,718.8 875.2,720.7 887.5,721.2 899.8,719.5 912.1,716.5 924.3,714.1 936.6,712 948.9,710.8 961.2,712 973.5,713.6 985.7,713.2 998,711.7 1010.3,709.4 1022.6,707.7 1034.8,708.9 1047.1,708.9 1059.4,710.1 1071.7,712 1084,712.5" fill="none" stroke="#6e2d28" stroke-width="2.2" stroke-linejoin="round"/><polyline points="126.2,746.7 138.5,746.7 150.8,741.5 163,740.8 175.3,743.9 187.6,751.5 199.9,749.6 212.2,752.6 224.4,749.8 236.7,749.1 249,754.3 261.3,755 273.5,756.9 285.8,758.5 298.1,760.2 310.4,765.2 322.7,766.8 334.9,769.9 347.2,767.5 359.5,766.8 371.8,766.1 384.1,768.5 396.3,768.7 408.6,768.7 420.9,768 433.2,773.2 445.5,767.5 457.7,763.3 470,761.6 482.3,767.3 494.6,766.8 506.8,769.7 519.1,768.7 531.4,769.9 543.7,769.2 556,767.5 568.2,768 580.5,771.5 592.8,772.7 605.1,772 617.4,770.4 629.6,769.9 641.9,772 654.2,770.8 666.5,772.7 678.8,772 691,771.1 703.3,771.1 715.6,770.4 727.9,770.4 740.2,772.3 752.4,772.7 764.7,774.4 777,772 789.3,771.1 801.5,771.1 813.8,773.2 826.1,769.2 838.4,765.6 850.7,762.8 862.9,762.8 875.2,763.7 887.5,766.1 899.8,766.1 912.1,766.1 924.3,764.9 936.6,763.3 948.9,761.6 961.2,763.3 973.5,761.6 985.7,761.6 998,762.8 1010.3,766.3 1022.6,763.3 1034.8,761.6 1047.1,759.7 1059.4,762.1 1071.7,763.3 1084,764" fill="none" stroke="#6e2d28" stroke-width="2" stroke-dasharray="6 3"/><path d="M150.8 701.4V705.4M148.3 701.4h5M148.3 705.4h5M224.4 707V711.2M221.9 707h5M221.9 711.2h5M249 705.7V708.7M246.5 705.7h5M246.5 708.7h5M322.7 706.5V712M320.2 706.5h5M320.2 712h5M396.3 713.6V714.6M393.8 713.6h5M393.8 714.6h5M420.9 710.6V713.6M418.4 710.6h5M418.4 713.6h5M445.5 707V710M443 707h5M443 710h5M470 705.9V708.4M467.5 705.9h5M467.5 708.4h5M494.6 710.8V712.8M492.1 710.8h5M492.1 712.8h5M519.1 708.2V712.2M516.6 708.2h5M516.6 712.2h5M568.2 710.3V712.3M565.7 710.3h5M565.7 712.3h5M592.8 712.5V714.5M590.3 712.5h5M590.3 714.5h5M617.4 708.2V712.2M614.9 708.2h5M614.9 712.2h5M691 707.9V708.9M688.5 707.9h5M688.5 708.9h5M764.7 710.3V714.3M762.2 710.3h5M762.2 714.3h5M789.3 715.1V720.1M786.8 715.1h5M786.8 720.1h5M813.8 717.2V719.7M811.3 717.2h5M811.3 719.7h5M838.4 714.8V718.8M835.9 714.8h5M835.9 718.8h5M862.9 713.8V718.8M860.4 713.8h5M860.4 718.8h5M912.1 716.5V721.5M909.6 716.5h5M909.6 721.5h5M936.6 712V716.5M934.1 712h5M934.1 716.5h5M1010.3 709.4V713.9M1007.8 709.4h5M1007.8 713.9h5M1084 711V714M1081.5 711h5M1081.5 714h5" fill="none" stroke="#6e2d28" stroke-width="1"/><line x1="116.5" y1="709.4" x2="120.5" y2="709.4" stroke="#000" stroke-width="1.2"/><text x="97.5" y="714.6" font-size="14.5" fill="#000" text-anchor="start" textLength="15" lengthAdjust="spacingAndGlyphs" stroke="#fff" stroke-width="0.2">28</text><line x1="116.5" y1="752.6" x2="120.5" y2="752.6" stroke="#000" stroke-width="1.2"/><text x="97.5" y="757.8" font-size="14.5" fill="#000" text-anchor="start" textLength="15" lengthAdjust="spacingAndGlyphs" stroke="#fff" stroke-width="0.2">24</text><text x="22" y="771" font-size="16" fill="#8c5046" text-anchor="start" transform="rotate(-90 22 771)" textLength="65" lengthAdjust="spacingAndGlyphs" stroke="#fff" stroke-width="0.2">2m Temp</text><text x="41.5" y="774" font-size="16" fill="#8c5046" text-anchor="start" transform="rotate(-90 41.5 774)" textLength="75" lengthAdjust="spacingAndGlyphs" stroke="#fff" stroke-width="0.2">2m DewPt</text><text x="61" y="790" font-size="16" fill="#8c5046" text-anchor="start" transform="rotate(-90 61 790)" textLength="107" lengthAdjust="spacingAndGlyphs" stroke="#fff" stroke-width="0.2">(6hr Min/Max)</text><text x="82.5" y="751.5" font-size="16" fill="#000" text-anchor="start" transform="rotate(-90 82.5 751.5)" textLength="26.5" lengthAdjust="spacingAndGlyphs" stroke="#fff" stroke-width="0.2">(°C)</text><polygon points="126,834.4 126.2,805 138.5,805 150.8,794.6 163,790.8 175.3,793.4 187.6,805 199.9,799.3 212.2,806.4 224.4,805.3 236.7,803.8 249,810.5 261.3,807.6 273.5,809.7 285.8,809.7 298.1,811.6 310.4,820.4 322.7,827.5 334.9,834.6 347.2,831 359.5,828.2 371.8,823.5 384.1,822.7 396.3,820.4 408.6,824.2 420.9,824.2 433.2,835.7 445.5,827.5 457.7,821.6 470,819.2 482.3,825.3 494.6,823 506.8,828.9 519.1,829.8 531.4,831 543.7,829.8 556,824.6 568.2,821.8 580.5,824.6 592.8,830.1 605.1,831.7 617.4,830.5 629.6,831.7 641.9,832.9 654.2,830.5 666.5,832.4 678.8,832.9 691,831 703.3,832.4 715.6,830.1 727.9,831.7 740.2,831 752.4,830.1 764.7,828.9 777,820.6 789.3,817.5 801.5,817.5 813.8,823 826.1,823 838.4,817.5 850.7,810.5 862.9,806.2 875.2,803.8 887.5,807.6 899.8,808.8 912.1,813.3 924.3,815.2 936.6,816.8 948.9,815.7 961.2,816.8 973.5,810.9 985.7,812.3 998,815.9 1010.3,823 1022.6,822.3 1034.8,817.5 1047.1,816.8 1059.4,816.4 1071.7,815.9 1084,817.5 1084,834.4" fill="#00be00"/><clipPath id="pc6"><rect x="121" y="781" width="969" height="19.3"/></clipPath><polygon points="126,801.3 126.2,805 138.5,805 150.8,794.6 163,790.8 175.3,793.4 187.6,805 199.9,799.3 212.2,806.4 224.4,805.3 236.7,803.8 249,810.5 261.3,807.6 273.5,809.7 285.8,809.7 298.1,811.6 310.4,820.4 322.7,827.5 334.9,834.6 347.2,831 359.5,828.2 371.8,823.5 384.1,822.7 396.3,820.4 408.6,824.2 420.9,824.2 433.2,835.7 445.5,827.5 457.7,821.6 470,819.2 482.3,825.3 494.6,823 506.8,828.9 519.1,829.8 531.4,831 543.7,829.8 556,824.6 568.2,821.8 580.5,824.6 592.8,830.1 605.1,831.7 617.4,830.5 629.6,831.7 641.9,832.9 654.2,830.5 666.5,832.4 678.8,832.9 691,831 703.3,832.4 715.6,830.1 727.9,831.7 740.2,831 752.4,830.1 764.7,828.9 777,820.6 789.3,817.5 801.5,817.5 813.8,823 826.1,823 838.4,817.5 850.7,810.5 862.9,806.2 875.2,803.8 887.5,807.6 899.8,808.8 912.1,813.3 924.3,815.2 936.6,816.8 948.9,815.7 961.2,816.8 973.5,810.9 985.7,812.3 998,815.9 1010.3,823 1022.6,822.3 1034.8,817.5 1047.1,816.8 1059.4,816.4 1071.7,815.9 1084,817.5 1084,801.3" fill="#009b00" clip-path="url(#pc6)"/><rect x="126" y="833.4" width="958" height="31.1" fill="#00fa00"/><line x1="120.5" y1="800.5" x2="1090.5" y2="800.5" stroke="#a0a0a0" stroke-width="1" stroke-dasharray="4 2.5" shape-rendering="crispEdges"/><line x1="120.5" y1="833.5" x2="1090.5" y2="833.5" stroke="#a0a0a0" stroke-width="1" stroke-dasharray="4 2.5" shape-rendering="crispEdges"/><polyline points="126.2,805 138.5,805 150.8,794.6 163,790.8 175.3,793.4 187.6,805 199.9,799.3 212.2,806.4 224.4,805.3 236.7,803.8 249,810.5 261.3,807.6 273.5,809.7 285.8,809.7 298.1,811.6 310.4,820.4 322.7,827.5 334.9,834.6 347.2,831 359.5,828.2 371.8,823.5 384.1,822.7 396.3,820.4 408.6,824.2 420.9,824.2 433.2,835.7 445.5,827.5 457.7,821.6 470,819.2 482.3,825.3 494.6,823 506.8,828.9 519.1,829.8 531.4,831 543.7,829.8 556,824.6 568.2,821.8 580.5,824.6 592.8,830.1 605.1,831.7 617.4,830.5 629.6,831.7 641.9,832.9 654.2,830.5 666.5,832.4 678.8,832.9 691,831 703.3,832.4 715.6,830.1 727.9,831.7 740.2,831 752.4,830.1 764.7,828.9 777,820.6 789.3,817.5 801.5,817.5 813.8,823 826.1,823 838.4,817.5 850.7,810.5 862.9,806.2 875.2,803.8 887.5,807.6 899.8,808.8 912.1,813.3 924.3,815.2 936.6,816.8 948.9,815.7 961.2,816.8 973.5,810.9 985.7,812.3 998,815.9 1010.3,823 1022.6,822.3 1034.8,817.5 1047.1,816.8 1059.4,816.4 1071.7,815.9 1084,817.5" fill="none" stroke="#008c00" stroke-width="1"/><g fill="#fff" stroke="#007800" stroke-width="0.9"><circle cx="126.2" cy="805" r="2.4"/><circle cx="138.5" cy="805" r="2.4"/><circle cx="150.8" cy="794.6" r="2.4"/><circle cx="163" cy="790.8" r="2.4"/><circle cx="175.3" cy="793.4" r="2.4"/><circle cx="187.6" cy="805" r="2.4"/><circle cx="199.9" cy="799.3" r="2.4"/><circle cx="212.2" cy="806.4" r="2.4"/><circle cx="224.4" cy="805.3" r="2.4"/><circle cx="236.7" cy="803.8" r="2.4"/><circle cx="249" cy="810.5" r="2.4"/><circle cx="261.3" cy="807.6" r="2.4"/><circle cx="273.5" cy="809.7" r="2.4"/><circle cx="285.8" cy="809.7" r="2.4"/><circle cx="298.1" cy="811.6" r="2.4"/><circle cx="310.4" cy="820.4" r="2.4"/><circle cx="322.7" cy="827.5" r="2.4"/><circle cx="334.9" cy="834.6" r="2.4"/><circle cx="347.2" cy="831" r="2.4"/><circle cx="359.5" cy="828.2" r="2.4"/><circle cx="371.8" cy="823.5" r="2.4"/><circle cx="384.1" cy="822.7" r="2.4"/><circle cx="396.3" cy="820.4" r="2.4"/><circle cx="408.6" cy="824.2" r="2.4"/><circle cx="420.9" cy="824.2" r="2.4"/><circle cx="433.2" cy="835.7" r="2.4"/><circle cx="445.5" cy="827.5" r="2.4"/><circle cx="457.7" cy="821.6" r="2.4"/><circle cx="470" cy="819.2" r="2.4"/><circle cx="482.3" cy="825.3" r="2.4"/><circle cx="494.6" cy="823" r="2.4"/><circle cx="506.8" cy="828.9" r="2.4"/><circle cx="519.1" cy="829.8" r="2.4"/><circle cx="531.4" cy="831" r="2.4"/><circle cx="543.7" cy="829.8" r="2.4"/><circle cx="556" cy="824.6" r="2.4"/><circle cx="568.2" cy="821.8" r="2.4"/><circle cx="580.5" cy="824.6" r="2.4"/><circle cx="592.8" cy="830.1" r="2.4"/><circle cx="605.1" cy="831.7" r="2.4"/><circle cx="617.4" cy="830.5" r="2.4"/><circle cx="629.6" cy="831.7" r="2.4"/><circle cx="641.9" cy="832.9" r="2.4"/><circle cx="654.2" cy="830.5" r="2.4"/><circle cx="666.5" cy="832.4" r="2.4"/><circle cx="678.8" cy="832.9" r="2.4"/><circle cx="691" cy="831" r="2.4"/><circle cx="703.3" cy="832.4" r="2.4"/><circle cx="715.6" cy="830.1" r="2.4"/><circle cx="727.9" cy="831.7" r="2.4"/><circle cx="740.2" cy="831" r="2.4"/><circle cx="752.4" cy="830.1" r="2.4"/><circle cx="764.7" cy="828.9" r="2.4"/><circle cx="777" cy="820.6" r="2.4"/><circle cx="789.3" cy="817.5" r="2.4"/><circle cx="801.5" cy="817.5" r="2.4"/><circle cx="813.8" cy="823" r="2.4"/><circle cx="826.1" cy="823" r="2.4"/><circle cx="838.4" cy="817.5" r="2.4"/><circle cx="850.7" cy="810.5" r="2.4"/><circle cx="862.9" cy="806.2" r="2.4"/><circle cx="875.2" cy="803.8" r="2.4"/><circle cx="887.5" cy="807.6" r="2.4"/><circle cx="899.8" cy="808.8" r="2.4"/><circle cx="912.1" cy="813.3" r="2.4"/><circle cx="924.3" cy="815.2" r="2.4"/><circle cx="936.6" cy="816.8" r="2.4"/><circle cx="948.9" cy="815.7" r="2.4"/><circle cx="961.2" cy="816.8" r="2.4"/><circle cx="973.5" cy="810.9" r="2.4"/><circle cx="985.7" cy="812.3" r="2.4"/><circle cx="998" cy="815.9" r="2.4"/><circle cx="1010.3" cy="823" r="2.4"/><circle cx="1022.6" cy="822.3" r="2.4"/><circle cx="1034.8" cy="817.5" r="2.4"/><circle cx="1047.1" cy="816.8" r="2.4"/><circle cx="1059.4" cy="816.4" r="2.4"/><circle cx="1071.7" cy="815.9" r="2.4"/><circle cx="1084" cy="817.5" r="2.4"/></g><line x1="116.5" y1="800.7" x2="120.5" y2="800.7" stroke="#000" stroke-width="1.2"/><text x="97.5" y="805.9" font-size="14.5" fill="#000" text-anchor="start" textLength="15" lengthAdjust="spacingAndGlyphs" stroke="#fff" stroke-width="0.2">80</text><line x1="116.5" y1="833.4" x2="120.5" y2="833.4" stroke="#000" stroke-width="1.2"/><text x="97.5" y="838.6" font-size="14.5" fill="#000" text-anchor="start" textLength="15" lengthAdjust="spacingAndGlyphs" stroke="#fff" stroke-width="0.2">70</text><text x="41.5" y="846.5" font-size="16" fill="#00dc00" text-anchor="start" transform="rotate(-90 41.5 846.5)" textLength="47.5" lengthAdjust="spacingAndGlyphs" stroke="#fff" stroke-width="0.2">2m RH</text><text x="82.5" y="834.5" font-size="16" fill="#000" text-anchor="start" transform="rotate(-90 82.5 834.5)" textLength="23.5" lengthAdjust="spacingAndGlyphs" stroke="#fff" stroke-width="0.2">(%)</text><rect x="133.2" y="866" width="956.5" height="83.6" fill="#6baed6"/><polygon points="133.2,893.3 133.2,891.4 144.6,891.4 144.6,891.4 156.9,891.4 156.9,888.6 169.1,888.6 169.1,891.4 181.4,891.4 181.4,867.3 193.7,867.3 193.7,867.3 206,867.3 206,867.3 218.3,867.3 218.3,890.5 230.5,890.5 230.5,867.3 242.8,867.3 242.8,867.3 255.1,867.3 255.1,867.3 267.4,867.3 267.4,873.2 279.6,873.2 279.6,878.6 291.9,878.6 291.9,891.4 304.2,891.4 304.2,891.4 316.5,891.4 316.5,890.5 328.8,890.5 328.8,891.4 341,891.4 341,891.4 353.3,891.4 353.3,891.4 365.6,891.4 365.6,889.8 377.9,889.8 377.9,870.1 390.2,870.1 390.2,868.5 402.4,868.5 402.4,867.3 414.7,867.3 414.7,891.4 427,891.4 427,891.4 439.3,891.4 439.3,867.3 451.6,867.3 451.6,876.3 463.8,876.3 463.8,882.7 476.1,882.7 476.1,871.3 488.4,871.3 488.4,873.7 500.7,873.7 500.7,889.8 512.9,889.8 512.9,893.3" fill="#faf5fa"/><polygon points="525.2,893.3 525.2,891.4 537.5,891.4 537.5,891.4 549.8,891.4 549.8,891.4 562.1,891.4 562.1,891.4 574.3,891.4 574.3,870.4 586.6,870.4 586.6,884.6 598.9,884.6 598.9,893.3" fill="#faf5fa"/><polygon points="672.6,893.3 672.6,867.3 684.9,867.3 684.9,893.3" fill="#faf5fa"/><polygon points="697.1,893.3 697.1,891.4 709.4,891.4 709.4,891.4 721.7,891.4 721.7,893.3" fill="#faf5fa"/><polygon points="734,893.3 734,891.4 746.2,891.4 746.2,893.3" fill="#faf5fa"/><polygon points="869,893.3 869,891.4 881.3,891.4 881.3,891.4 893.6,891.4 893.6,893.3" fill="#faf5fa"/><polygon points="905.9,893.3 905.9,891.4 918.2,891.4 918.2,893.3" fill="#faf5fa"/><polygon points="979.6,893.3 979.6,891.4 991.8,891.4 991.8,893.3" fill="#faf5fa"/><polygon points="1004.1,893.3 1004.1,867.3 1016.4,867.3 1016.4,867.3 1028.7,867.3 1028.7,867.3 1040.9,867.3 1040.9,867.3 1053.2,867.3 1053.2,867.3 1065.5,867.3 1065.5,867.3 1077.8,867.3 1077.8,867.3 1089.7,867.3 1089.7,893.3" fill="#faf5fa"/><polygon points="133.2,921 133.2,918.6 144.6,918.6 144.6,921" fill="#e8e8e8"/><polygon points="242.8,921 242.8,904.5 255.1,904.5 255.1,909.7 267.4,909.7 267.4,895.5 279.6,895.5 279.6,896.7 291.9,896.7 291.9,903.7 304.2,903.7 304.2,912.7 316.5,912.7 316.5,919.1 328.8,919.1 328.8,919.1 341,919.1 341,919.1 353.3,919.1 353.3,919.1 365.6,919.1 365.6,919.1 377.9,919.1 377.9,919.1 390.2,919.1 390.2,895.7 402.4,895.7 402.4,910.4 414.7,910.4 414.7,912.3 427,912.3 427,919.1 439.3,919.1 439.3,895.5 451.6,895.5 451.6,910.4 463.8,910.4 463.8,918.6 476.1,918.6 476.1,896.2 488.4,896.2 488.4,897.4 500.7,897.4 500.7,895.5 512.9,895.5 512.9,916.7 525.2,916.7 525.2,919.1 537.5,919.1 537.5,919.1 549.8,919.1 549.8,919.1 562.1,919.1 562.1,919.1 574.3,919.1 574.3,919.1 586.6,919.1 586.6,919.1 598.9,919.1 598.9,921" fill="#e8e8e8"/><polygon points="967.3,921 967.3,919.1 979.6,919.1 979.6,919.1 991.8,919.1 991.8,919.1 1004.1,919.1 1004.1,919.1 1016.4,919.1 1016.4,919.1 1028.7,919.1 1028.7,904.5 1040.9,904.5 1040.9,898.5 1053.2,898.5 1053.2,919.1 1065.5,919.1 1065.5,919.1 1077.8,919.1 1077.8,921" fill="#e8e8e8"/><polygon points="133.2,948.8 133.2,943.6 144.6,943.6 144.6,942.4 156.9,942.4 156.9,944.1 169.1,944.1 169.1,936.5 181.4,936.5 181.4,928.7 193.7,928.7 193.7,948.8" fill="#dadada"/><polygon points="218.3,948.8 218.3,942.4 230.5,942.4 230.5,948.8" fill="#dadada"/><polygon points="267.4,948.8 267.4,946.9 279.6,946.9 279.6,948.8" fill="#dadada"/><polygon points="414.7,948.8 414.7,946 427,946 427,948.8" fill="#dadada"/><polygon points="439.3,948.8 439.3,946 451.6,946 451.6,948.8" fill="#dadada"/><line x1="132.5" y1="893.5" x2="1090.5" y2="893.5" stroke="#a0a0a0" stroke-width="1" stroke-dasharray="4 2.5" shape-rendering="crispEdges"/><line x1="132.5" y1="921.5" x2="1090.5" y2="921.5" stroke="#a0a0a0" stroke-width="1" stroke-dasharray="4 2.5" shape-rendering="crispEdges"/><line x1="132.5" y1="948.5" x2="1090.5" y2="948.5" stroke="#a0a0a0" stroke-width="1" stroke-dasharray="4 2.5" shape-rendering="crispEdges"/><line x1="128.5" y1="893.3" x2="132.5" y2="893.3" stroke="#000" stroke-width="1.2"/><line x1="128.5" y1="921" x2="132.5" y2="921" stroke="#000" stroke-width="1.2"/><line x1="128.5" y1="948.8" x2="132.5" y2="948.8" stroke="#000" stroke-width="1.2"/><line x1="175.5" y1="866" x2="175.5" y2="1060" stroke="#a0a0a0" stroke-width="1" stroke-dasharray="4 2.5" shape-rendering="crispEdges"/><line x1="273.5" y1="866" x2="273.5" y2="1060" stroke="#a0a0a0" stroke-width="1" stroke-dasharray="4 2.5" shape-rendering="crispEdges"/><line x1="371.5" y1="866" x2="371.5" y2="1060" stroke="#a0a0a0" stroke-width="1" stroke-dasharray="4 2.5" shape-rendering="crispEdges"/><line x1="469.5" y1="866" x2="469.5" y2="1060" stroke="#a0a0a0" stroke-width="1" stroke-dasharray="4 2.5" shape-rendering="crispEdges"/><line x1="568.5" y1="866" x2="568.5" y2="1060" stroke="#a0a0a0" stroke-width="1" stroke-dasharray="4 2.5" shape-rendering="crispEdges"/><line x1="666.5" y1="866" x2="666.5" y2="1060" stroke="#a0a0a0" stroke-width="1" stroke-dasharray="4 2.5" shape-rendering="crispEdges"/><line x1="764.5" y1="866" x2="764.5" y2="1060" stroke="#a0a0a0" stroke-width="1" stroke-dasharray="4 2.5" shape-rendering="crispEdges"/><line x1="862.5" y1="866" x2="862.5" y2="1060" stroke="#a0a0a0" stroke-width="1" stroke-dasharray="4 2.5" shape-rendering="crispEdges"/><line x1="961.5" y1="866" x2="961.5" y2="1060" stroke="#a0a0a0" stroke-width="1" stroke-dasharray="4 2.5" shape-rendering="crispEdges"/><line x1="1059.5" y1="866" x2="1059.5" y2="1060" stroke="#a0a0a0" stroke-width="1" stroke-dasharray="4 2.5" shape-rendering="crispEdges"/><text x="93.5" y="886" font-size="15.5" fill="#000" text-anchor="start" textLength="28" lengthAdjust="spacingAndGlyphs" stroke="#fff" stroke-width="0.2">high</text><text x="77.5" y="914" font-size="15.5" fill="#000" text-anchor="start" textLength="44" lengthAdjust="spacingAndGlyphs" stroke="#fff" stroke-width="0.2">middle</text><text x="100.5" y="942" font-size="15.5" fill="#000" text-anchor="start" textLength="21" lengthAdjust="spacingAndGlyphs" stroke="#fff" stroke-width="0.2">low</text><text x="32" y="950" font-size="16" fill="#5aa0dc" text-anchor="start" transform="rotate(-90 32 950)" textLength="85" lengthAdjust="spacingAndGlyphs" stroke="#fff" stroke-width="0.2">Cloud Cover</text><text x="52.5" y="919" font-size="16" fill="#000" text-anchor="start" transform="rotate(-90 52.5 919)" textLength="23" lengthAdjust="spacingAndGlyphs" stroke="#fff" stroke-width="0.2">(%)</text><line x1="132.5" y1="972.5" x2="1090.5" y2="972.5" stroke="#a0a0a0" stroke-width="1" stroke-dasharray="4 2.5" shape-rendering="crispEdges"/><line x1="132.5" y1="994.5" x2="1090.5" y2="994.5" stroke="#a0a0a0" stroke-width="1" stroke-dasharray="4 2.5" shape-rendering="crispEdges"/><line x1="132.5" y1="1016.5" x2="1090.5" y2="1016.5" stroke="#a0a0a0" stroke-width="1" stroke-dasharray="4 2.5" shape-rendering="crispEdges"/><line x1="132.5" y1="1038.5" x2="1090.5" y2="1038.5" stroke="#a0a0a0" stroke-width="1" stroke-dasharray="4 2.5" shape-rendering="crispEdges"/><rect x="182.2" y="1039.1" width="10.6" height="21.1" fill="#20d020"/><rect x="194.5" y="1053.8" width="10.6" height="6.4" fill="#20d020"/><rect x="219.1" y="1046.5" width="10.6" height="13.7" fill="#20d020"/><rect x="919" y="1052.9" width="10.6" height="7.3" fill="#20d020"/><rect x="185.6" y="1046.5" width="3.6" height="13.7" fill="#fa3c3c"/><rect x="197.9" y="1053.8" width="3.6" height="6.4" fill="#fa3c3c"/><rect x="210.2" y="1053.8" width="3.6" height="6.4" fill="#fa3c3c"/><rect x="222.5" y="1053.8" width="3.6" height="6.4" fill="#fa3c3c"/><rect x="234.7" y="1053.8" width="3.6" height="6.4" fill="#fa3c3c"/><rect x="934.6" y="1052.9" width="3.6" height="7.3" fill="#fa3c3c"/><line x1="128.5" y1="972" x2="132.5" y2="972" stroke="#000" stroke-width="1.2"/><text x="105" y="977.2" font-size="14.5" fill="#000" text-anchor="start" textLength="19.5" lengthAdjust="spacingAndGlyphs" stroke="#fff" stroke-width="0.2">0.8</text><line x1="128.5" y1="994" x2="132.5" y2="994" stroke="#000" stroke-width="1.2"/><text x="105" y="999.2" font-size="14.5" fill="#000" text-anchor="start" textLength="19.5" lengthAdjust="spacingAndGlyphs" stroke="#fff" stroke-width="0.2">0.6</text><line x1="128.5" y1="1016" x2="132.5" y2="1016" stroke="#000" stroke-width="1.2"/><text x="105" y="1021.2" font-size="14.5" fill="#000" text-anchor="start" textLength="19.5" lengthAdjust="spacingAndGlyphs" stroke="#fff" stroke-width="0.2">0.4</text><line x1="128.5" y1="1038" x2="132.5" y2="1038" stroke="#000" stroke-width="1.2"/><text x="105" y="1043.2" font-size="14.5" fill="#000" text-anchor="start" textLength="19.5" lengthAdjust="spacingAndGlyphs" stroke="#fff" stroke-width="0.2">0.2</text><line x1="128.5" y1="1060.5" x2="132.5" y2="1060.5" stroke="#000" stroke-width="1.2"/><text x="124.5" y="1065.7" font-size="14.5" fill="#000" text-anchor="end" stroke="#fff" stroke-width="0.2">0</text><text x="89" y="1049.7" font-size="16" fill="#000" text-anchor="start" transform="rotate(-90 89 1049.7)" textLength="121" lengthAdjust="spacingAndGlyphs" stroke="#fff" stroke-width="0.2">3hr Precip (mm)</text><text x="-16.3" y="977" font-size="15.5" fill="#20d020" text-anchor="start" textLength="86" lengthAdjust="spacingAndGlyphs" stroke="#fff" stroke-width="0.2">Total / Rain</text><text x="-2.3" y="996" font-size="15.5" fill="#fa3c3c" text-anchor="start" textLength="72" lengthAdjust="spacingAndGlyphs" stroke="#fff" stroke-width="0.2">Convective</text><text x="960" y="964.5" font-size="13.5" fill="#000" text-anchor="start" textLength="125.5" lengthAdjust="spacingAndGlyphs" stroke="#fff" stroke-width="0.2">Run Total = 0.44</text><text x="5.5" y="1096" font-size="13.5" fill="#000" text-anchor="start" textLength="114.5" lengthAdjust="spacingAndGlyphs" stroke="#fff" stroke-width="0.2">GrADS: COLA/IGES</text><line x1="119.7" y1="695.3" x2="1091.3" y2="695.3" stroke="#000" stroke-width="1.2"/><line x1="119.7" y1="780.3" x2="1091.3" y2="780.3" stroke="#000" stroke-width="1.2"/><line x1="119.7" y1="865.3" x2="1091.3" y2="865.3" stroke="#000" stroke-width="1.2"/><line x1="132.5" y1="950.3" x2="1090.5" y2="950.3" stroke="#000" stroke-width="1.2"/><line x1="1090.5" y1="70" x2="1090.5" y2="1061" stroke="#000" stroke-width="1.2"/></svg></body></html>
